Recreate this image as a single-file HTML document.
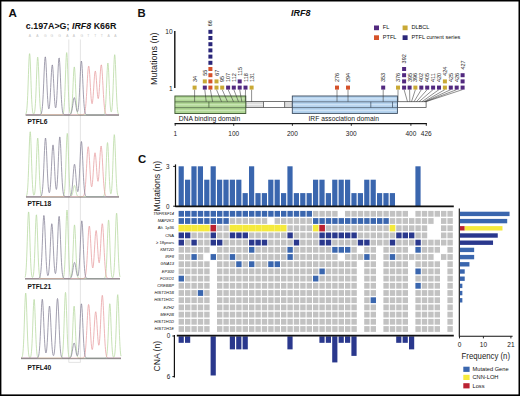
<!DOCTYPE html>
<html><head><meta charset="utf-8"><title>IRF8 figure</title>
<style>html,body{margin:0;padding:0;background:#fff;width:520px;height:396px;overflow:hidden;font-family:"Liberation Sans",sans-serif;}svg{display:block;}</style>
</head><body>
<svg width="520" height="396" viewBox="0 0 520 396"><rect x="0" y="0" width="520" height="396" fill="#fff"/>
<text x="8.4" y="17.1" font-family="'Liberation Sans', sans-serif" font-size="11.6" font-weight="bold" fill="#111">A</text>
<text x="25.8" y="29.4" font-family="'Liberation Sans', sans-serif" font-size="8.9" font-weight="bold" fill="#111">c.197A&gt;G; <tspan font-style="italic">IRF8</tspan> K66R</text>
<text x="29.8" y="37.2" font-family="'Liberation Sans', sans-serif" font-size="3.4" text-anchor="middle" fill="#c4c4c4">A</text>
<text x="37.5" y="37.2" font-family="'Liberation Sans', sans-serif" font-size="3.4" text-anchor="middle" fill="#c4c4c4">A</text>
<text x="45.2" y="37.2" font-family="'Liberation Sans', sans-serif" font-size="3.4" text-anchor="middle" fill="#c4c4c4">G</text>
<text x="51.9" y="37.2" font-family="'Liberation Sans', sans-serif" font-size="3.4" text-anchor="middle" fill="#c4c4c4">G</text>
<text x="59.6" y="37.2" font-family="'Liberation Sans', sans-serif" font-size="3.4" text-anchor="middle" fill="#c4c4c4">G</text>
<text x="67.3" y="37.2" font-family="'Liberation Sans', sans-serif" font-size="3.4" text-anchor="middle" fill="#c4c4c4">A</text>
<text x="74.0" y="37.2" font-family="'Liberation Sans', sans-serif" font-size="3.4" text-anchor="middle" fill="#c4c4c4">A</text>
<text x="81.7" y="37.2" font-family="'Liberation Sans', sans-serif" font-size="3.4" text-anchor="middle" fill="#c4c4c4">G</text>
<text x="88.4" y="37.2" font-family="'Liberation Sans', sans-serif" font-size="3.4" text-anchor="middle" fill="#c4c4c4">T</text>
<text x="95.2" y="37.2" font-family="'Liberation Sans', sans-serif" font-size="3.4" text-anchor="middle" fill="#c4c4c4">T</text>
<text x="101.9" y="37.2" font-family="'Liberation Sans', sans-serif" font-size="3.4" text-anchor="middle" fill="#c4c4c4">T</text>
<text x="108.6" y="37.2" font-family="'Liberation Sans', sans-serif" font-size="3.4" text-anchor="middle" fill="#c4c4c4">A</text>
<text x="115.3" y="37.2" font-family="'Liberation Sans', sans-serif" font-size="3.4" text-anchor="middle" fill="#c4c4c4">A</text>
<line x1="68.8" y1="39.5" x2="68.8" y2="362.4" stroke="#d2d2d2" stroke-width="0.6"/>
<line x1="80.4" y1="39.5" x2="80.4" y2="362.4" stroke="#d2d2d2" stroke-width="0.6"/>
<line x1="68.8" y1="362.4" x2="80.4" y2="362.4" stroke="#d2d2d2" stroke-width="0.6"/>
<polyline points="25.70,114.23 25.95,113.84 26.20,113.18 26.45,112.14 26.70,110.54 26.95,108.22 27.20,105.00 27.45,100.73 27.70,95.39 27.95,89.05 28.20,81.96 28.45,74.55 28.70,67.40 28.95,61.15 29.20,56.46 29.45,53.84 29.70,53.60 29.95,55.76 30.20,60.07 30.45,66.05 30.70,73.08 30.95,80.49 31.20,87.68 31.45,94.20 31.70,99.75 31.95,104.23 32.20,107.65 32.45,110.13 32.70,111.85 32.95,112.97 33.20,113.64 33.45,113.99 33.70,114.07 33.95,113.92 34.20,113.49 34.45,112.71 34.70,111.46 34.95,109.58 35.20,106.92 35.45,103.32 35.70,98.71 35.95,93.12 36.20,86.71 36.45,79.82 36.70,72.95 36.95,66.67 37.20,61.62 37.45,58.34 37.70,57.20 37.95,58.34 38.20,61.62 38.45,66.67 38.70,72.95 38.95,79.82 39.20,86.71 39.45,93.12 39.70,98.71 39.95,103.32 40.20,106.92 40.45,109.59 40.70,111.47 40.95,112.74 41.20,113.56 41.45,114.06 41.70,114.36 41.95,114.52 42.20,114.61 42.45,114.66 42.70,114.68 42.95,114.69 43.20,114.70 43.45,114.70 43.70,114.70 43.95,114.70 44.20,114.70 44.45,114.70 44.70,114.70 44.95,114.70 45.20,114.70 45.45,114.70 45.70,114.70 45.95,114.70 46.20,114.70 46.45,114.70 46.70,114.70 46.95,114.70 47.20,114.70 47.45,114.70 47.70,114.70 47.95,114.70 48.20,114.70 48.45,114.70 48.70,114.70 48.95,114.70 49.20,114.70 49.45,114.70 49.70,114.70 49.95,114.70 50.20,114.70 50.45,114.70 50.70,114.70 50.95,114.70 51.20,114.70 51.45,114.70 51.70,114.70 51.95,114.70 52.20,114.70 52.45,114.70 52.70,114.70 52.95,114.70 53.20,114.70 53.45,114.70 53.70,114.70 53.95,114.70 54.20,114.70 54.45,114.70 54.70,114.70 54.95,114.70 55.20,114.70 55.45,114.70 55.70,114.70 55.95,114.70 56.20,114.70 56.45,114.70 56.70,114.70 56.95,114.70 57.20,114.70 57.45,114.70 57.70,114.70 57.95,114.70 58.20,114.70 58.45,114.70 58.70,114.70 58.95,114.70 59.20,114.70 59.45,114.70 59.70,114.70 59.95,114.70 60.20,114.70 60.45,114.70 60.70,114.70 60.95,114.70 61.20,114.70 61.45,114.69 61.70,114.68 61.95,114.65 62.20,114.60 62.45,114.51 62.70,114.33 62.95,114.01 63.20,113.47 63.45,112.59 63.70,111.21 63.95,109.18 64.20,106.30 64.45,102.41 64.70,97.43 64.95,91.39 65.20,84.47 65.45,77.03 65.70,69.61 65.95,62.83 66.20,57.37 66.45,53.83 66.70,52.60 66.95,53.83 67.20,57.37 67.45,62.83 67.70,69.61 67.95,77.03 68.20,84.47 68.45,91.39 68.70,97.43 68.95,102.41 69.20,106.28 69.45,109.15 69.70,111.16 69.95,112.47 70.20,113.25 70.45,113.59 70.70,113.57 70.95,113.19 71.20,112.39 71.45,111.09 71.70,109.17 71.95,106.51 72.20,103.02 72.45,98.68 72.70,93.59 72.95,87.97 73.20,82.18 73.45,76.69 73.70,72.01 73.95,68.64 74.20,66.95 74.45,67.14 74.70,69.19 74.95,72.86 75.20,77.74 75.45,83.33 75.70,89.12 75.95,94.66 76.20,99.61 76.45,103.79 76.70,107.12 76.95,109.64 77.20,111.45 77.45,112.70 77.70,113.51 77.95,114.03 78.20,114.33 78.45,114.51 78.70,114.60 78.95,114.65 79.20,114.68 79.45,114.69 79.70,114.70 79.95,114.70 80.20,114.70 80.45,114.70 80.70,114.70 80.95,114.70 81.20,114.70 81.45,114.70 81.70,114.70 81.95,114.70 82.20,114.70 82.45,114.70 82.70,114.70 82.95,114.70 83.20,114.70 83.45,114.70 83.70,114.70 83.95,114.70 84.20,114.70 84.45,114.70 84.70,114.70 84.95,114.70 85.20,114.70 85.45,114.70 85.70,114.70 85.95,114.70 86.20,114.70 86.45,114.70 86.70,114.70 86.95,114.70 87.20,114.70 87.45,114.70 87.70,114.70 87.95,114.70 88.20,114.70 88.45,114.70 88.70,114.70 88.95,114.70 89.20,114.70 89.45,114.70 89.70,114.70 89.95,114.70 90.20,114.70 90.45,114.70 90.70,114.70 90.95,114.70 91.20,114.70 91.45,114.70 91.70,114.70 91.95,114.70 92.20,114.70 92.45,114.70 92.70,114.70 92.95,114.70 93.20,114.70 93.45,114.70 93.70,114.70 93.95,114.70 94.20,114.70 94.45,114.70 94.70,114.70 94.95,114.70 95.20,114.70 95.45,114.70 95.70,114.70 95.95,114.70 96.20,114.70 96.45,114.70 96.70,114.70 96.95,114.70 97.20,114.70 97.45,114.70 97.70,114.70 97.95,114.70 98.20,114.70 98.45,114.70 98.70,114.70 98.95,114.70 99.20,114.70 99.45,114.70 99.70,114.70 99.95,114.70 100.20,114.70 100.45,114.70 100.70,114.70 100.95,114.70 101.20,114.70 101.45,114.70 101.70,114.70 101.95,114.70 102.20,114.70 102.45,114.70 102.70,114.69 102.95,114.68 103.20,114.66 103.45,114.61 103.70,114.52 103.95,114.35 104.20,114.05 104.45,113.55 104.70,112.75 104.95,111.51 105.20,109.68 105.45,107.13 105.70,103.71 105.95,99.39 106.20,94.20 106.45,88.32 106.70,82.09 106.95,75.97 107.20,70.50 107.45,66.24 107.70,63.66 107.95,63.04 108.20,64.47 108.45,67.77 108.70,72.57 108.95,78.37 109.20,84.59 109.45,90.72 109.70,96.35 109.95,101.18 110.20,105.09 110.45,108.06 110.70,110.13 110.95,111.40 111.20,111.92 111.45,111.74 111.70,110.82 111.95,109.09 112.20,106.44 112.45,102.76 112.70,97.99 112.95,92.17 113.20,85.49 113.45,78.31 113.70,71.13 113.95,64.58 114.20,59.31 114.45,55.89 114.70,54.70 114.95,55.89 115.20,59.31 115.45,64.58 115.70,71.13 115.95,78.31 116.20,85.49 116.45,92.18 116.70,98.02 116.95,102.83 117.20,106.58 117.45,109.36 117.70,111.33 117.95,112.66 118.20,113.51 118.45,114.03 118.70,114.34 118.95,114.51" fill="none" stroke="#badba5" stroke-width="0.8"/>
<polyline points="25.70,114.70 25.95,114.70 26.20,114.70 26.45,114.70 26.70,114.70 26.95,114.70 27.20,114.70 27.45,114.70 27.70,114.70 27.95,114.70 28.20,114.70 28.45,114.70 28.70,114.70 28.95,114.70 29.20,114.70 29.45,114.70 29.70,114.70 29.95,114.70 30.20,114.70 30.45,114.70 30.70,114.70 30.95,114.70 31.20,114.70 31.45,114.70 31.70,114.70 31.95,114.70 32.20,114.70 32.45,114.70 32.70,114.70 32.95,114.70 33.20,114.70 33.45,114.70 33.70,114.70 33.95,114.70 34.20,114.70 34.45,114.70 34.70,114.70 34.95,114.70 35.20,114.70 35.45,114.70 35.70,114.70 35.95,114.70 36.20,114.70 36.45,114.70 36.70,114.70 36.95,114.70 37.20,114.70 37.45,114.70 37.70,114.70 37.95,114.70 38.20,114.70 38.45,114.70 38.70,114.70 38.95,114.70 39.20,114.70 39.45,114.70 39.70,114.70 39.95,114.70 40.20,114.70 40.45,114.70 40.70,114.70 40.95,114.70 41.20,114.70 41.45,114.70 41.70,114.70 41.95,114.70 42.20,114.70 42.45,114.70 42.70,114.70 42.95,114.70 43.20,114.70 43.45,114.70 43.70,114.70 43.95,114.70 44.20,114.70 44.45,114.70 44.70,114.70 44.95,114.70 45.20,114.70 45.45,114.70 45.70,114.70 45.95,114.70 46.20,114.70 46.45,114.70 46.70,114.70 46.95,114.70 47.20,114.70 47.45,114.70 47.70,114.70 47.95,114.70 48.20,114.70 48.45,114.70 48.70,114.70 48.95,114.70 49.20,114.70 49.45,114.70 49.70,114.70 49.95,114.70 50.20,114.70 50.45,114.70 50.70,114.70 50.95,114.70 51.20,114.70 51.45,114.70 51.70,114.70 51.95,114.70 52.20,114.70 52.45,114.70 52.70,114.70 52.95,114.70 53.20,114.70 53.45,114.70 53.70,114.70 53.95,114.70 54.20,114.70 54.45,114.70 54.70,114.70 54.95,114.70 55.20,114.70 55.45,114.70 55.70,114.70 55.95,114.70 56.20,114.70 56.45,114.70 56.70,114.70 56.95,114.70 57.20,114.70 57.45,114.70 57.70,114.70 57.95,114.70 58.20,114.70 58.45,114.70 58.70,114.70 58.95,114.70 59.20,114.70 59.45,114.70 59.70,114.70 59.95,114.70 60.20,114.70 60.45,114.70 60.70,114.70 60.95,114.70 61.20,114.70 61.45,114.70 61.70,114.70 61.95,114.70 62.20,114.70 62.45,114.70 62.70,114.70 62.95,114.70 63.20,114.70 63.45,114.70 63.70,114.70 63.95,114.70 64.20,114.70 64.45,114.70 64.70,114.70 64.95,114.70 65.20,114.70 65.45,114.70 65.70,114.70 65.95,114.70 66.20,114.70 66.45,114.70 66.70,114.70 66.95,114.70 67.20,114.70 67.45,114.70 67.70,114.70 67.95,114.70 68.20,114.70 68.45,114.70 68.70,114.70 68.95,114.70 69.20,114.70 69.45,114.70 69.70,114.70 69.95,114.70 70.20,114.70 70.45,114.70 70.70,114.70 70.95,114.70 71.20,114.70 71.45,114.70 71.70,114.70 71.95,114.70 72.20,114.70 72.45,114.70 72.70,114.70 72.95,114.70 73.20,114.70 73.45,114.70 73.70,114.70 73.95,114.70 74.20,114.70 74.45,114.70 74.70,114.70 74.95,114.70 75.20,114.70 75.45,114.70 75.70,114.70 75.95,114.70 76.20,114.70 76.45,114.70 76.70,114.70 76.95,114.70 77.20,114.70 77.45,114.70 77.70,114.70 77.95,114.70 78.20,114.70 78.45,114.70 78.70,114.70 78.95,114.70 79.20,114.70 79.45,114.70 79.70,114.70 79.95,114.70 80.20,114.70 80.45,114.70 80.70,114.70 80.95,114.70 81.20,114.70 81.45,114.70 81.70,114.70 81.95,114.69 82.20,114.69 82.45,114.68 82.70,114.66 82.95,114.62 83.20,114.57 83.45,114.48 83.70,114.33 83.95,114.11 84.20,113.77 84.45,113.27 84.70,112.56 84.95,111.58 85.20,110.25 85.45,108.51 85.70,106.30 85.95,103.58 86.20,100.33 86.45,96.58 86.70,92.40 86.95,87.92 87.20,83.32 87.45,78.81 87.70,74.64 87.95,71.07 88.20,68.32 88.45,66.59 88.70,65.99 88.95,66.57 89.20,68.29 89.45,71.01 89.70,74.55 89.95,78.65 90.20,83.05 90.45,87.48 90.70,91.70 90.95,95.50 91.20,98.70 91.45,101.17 91.70,102.83 91.95,103.64 92.20,103.58 92.45,102.65 92.70,100.92 92.95,98.44 93.20,95.34 93.45,91.76 93.70,87.89 93.95,83.93 94.20,80.14 94.45,76.76 94.70,74.01 94.95,72.09 95.20,71.14 95.45,71.22 95.70,72.33 95.95,74.37 96.20,77.17 96.45,80.52 96.70,84.17 96.95,87.84 97.20,91.29 97.45,94.26 97.70,96.58 97.95,98.06 98.20,98.63 98.45,98.21 98.70,96.81 98.95,94.50 99.20,91.38 99.45,87.62 99.70,83.44 99.95,79.11 100.20,74.90 100.45,71.12 100.70,68.04 100.95,65.89 101.20,64.85 101.45,64.99 101.70,66.32 101.95,68.74 102.20,72.10 102.45,76.16 102.70,80.67 102.95,85.38 103.20,90.05 103.45,94.47 103.70,98.50 103.95,102.04 104.20,105.05 104.45,107.51 104.70,109.48 104.95,111.00 105.20,112.14 105.45,112.97 105.70,113.56 105.95,113.97 106.20,114.24 106.45,114.42 106.70,114.53 106.95,114.60 107.20,114.64 107.45,114.67 107.70,114.68 107.95,114.69 108.20,114.70 108.45,114.70 108.70,114.70 108.95,114.70 109.20,114.70 109.45,114.70 109.70,114.70 109.95,114.70 110.20,114.70 110.45,114.70 110.70,114.70 110.95,114.70 111.20,114.70 111.45,114.70 111.70,114.70 111.95,114.70 112.20,114.70 112.45,114.70 112.70,114.70 112.95,114.70 113.20,114.70 113.45,114.70 113.70,114.70 113.95,114.70 114.20,114.70 114.45,114.70 114.70,114.70 114.95,114.70 115.20,114.70 115.45,114.70 115.70,114.70 115.95,114.70 116.20,114.70 116.45,114.70 116.70,114.70 116.95,114.70 117.20,114.70 117.45,114.70 117.70,114.70 117.95,114.70 118.20,114.70 118.45,114.70 118.70,114.70 118.95,114.70" fill="none" stroke="#e8a2a5" stroke-width="0.8"/>
<polyline points="25.70,114.70 25.95,114.70 26.20,114.70 26.45,114.70 26.70,114.70 26.95,114.70 27.20,114.70 27.45,114.70 27.70,114.70 27.95,114.70 28.20,114.70 28.45,114.70 28.70,114.70 28.95,114.70 29.20,114.70 29.45,114.70 29.70,114.70 29.95,114.70 30.20,114.70 30.45,114.70 30.70,114.70 30.95,114.70 31.20,114.70 31.45,114.70 31.70,114.70 31.95,114.70 32.20,114.70 32.45,114.70 32.70,114.70 32.95,114.70 33.20,114.70 33.45,114.70 33.70,114.70 33.95,114.70 34.20,114.70 34.45,114.70 34.70,114.70 34.95,114.70 35.20,114.70 35.45,114.70 35.70,114.70 35.95,114.70 36.20,114.70 36.45,114.70 36.70,114.70 36.95,114.70 37.20,114.70 37.45,114.70 37.70,114.70 37.95,114.70 38.20,114.70 38.45,114.70 38.70,114.70 38.95,114.70 39.20,114.69 39.45,114.68 39.70,114.67 39.95,114.64 40.20,114.58 40.45,114.48 40.70,114.32 40.95,114.06 41.20,113.64 41.45,112.99 41.70,112.04 41.95,110.68 42.20,108.80 42.45,106.30 42.70,103.08 42.95,99.10 43.20,94.38 43.45,89.00 43.70,83.15 43.95,77.10 44.20,71.20 44.45,65.86 44.70,61.46 44.95,58.37 45.20,56.84 45.45,57.01 45.70,58.86 45.95,62.24 46.20,66.86 46.45,72.34 46.70,78.28 46.95,84.29 47.20,90.02 47.45,95.19 47.70,99.63 47.95,103.23 48.20,105.93 48.45,107.75 48.70,108.70 48.95,108.80 49.20,108.07 49.45,106.50 49.70,104.12 49.95,100.94 50.20,97.02 50.45,92.48 50.70,87.50 50.95,82.32 51.20,77.26 51.45,72.67 51.70,68.89 51.95,66.23 52.20,64.92 52.45,65.06 52.70,66.66 52.95,69.56 53.20,73.53 53.45,78.24 53.70,83.34 53.95,88.48 54.20,93.36 54.45,97.75 54.70,101.45 54.95,104.36 55.20,106.42 55.45,107.60 55.70,107.87 55.95,107.24 56.20,105.67 56.45,103.18 56.70,99.76 56.95,95.49 57.20,90.46 57.45,84.88 57.70,79.01 57.95,73.20 58.20,67.84 58.45,63.32 58.70,60.02 58.95,58.20 59.20,58.03 59.45,59.53 59.70,62.56 59.95,66.87 60.20,72.10 60.45,77.88 60.70,83.80 60.95,89.53 61.20,94.80 61.45,99.42 61.70,103.32 61.95,106.47 62.20,108.92 62.45,110.76 62.70,112.09 62.95,113.03 63.20,113.66 63.45,114.07 63.70,114.33 63.95,114.49 64.20,114.58 64.45,114.64 64.70,114.67 64.95,114.68 65.20,114.69 65.45,114.70 65.70,114.70 65.95,114.70 66.20,114.70 66.45,114.70 66.70,114.70 66.95,114.70 67.20,114.70 67.45,114.70 67.70,114.70 67.95,114.70 68.20,114.70 68.45,114.70 68.70,114.69 68.95,114.68 69.20,114.66 69.45,114.64 69.70,114.59 69.95,114.51 70.20,114.39 70.45,114.20 70.70,113.92 70.95,113.51 71.20,112.96 71.45,112.22 71.70,111.27 71.95,110.10 72.20,108.71 72.45,107.12 72.70,105.40 72.95,103.61 73.20,101.88 73.45,100.30 73.70,99.00 73.95,98.09 74.20,97.64 74.45,97.69 74.70,98.24 74.95,99.23 75.20,100.59 75.45,102.20 75.70,103.95 75.95,105.70 76.20,107.37 76.45,108.85 76.70,110.07 76.95,111.00 77.20,111.58 77.45,111.77 77.70,111.54 77.95,110.81 78.20,109.54 78.45,107.64 78.70,105.04 78.95,101.72 79.20,97.66 79.45,92.93 79.70,87.68 79.95,82.12 80.20,76.57 80.45,71.37 80.70,66.91 80.95,63.52 81.20,61.51 81.45,61.03 81.70,62.14 81.95,64.73 82.20,68.58 82.45,73.39 82.70,78.77 82.95,84.37 83.20,89.85 83.45,94.93 83.70,99.44 83.95,103.26 84.20,106.38 84.45,108.82 84.70,110.67 84.95,112.02 85.20,112.97 85.45,113.61 85.70,114.04 85.95,114.31 86.20,114.48 86.45,114.58 86.70,114.63 86.95,114.66 87.20,114.68 87.45,114.69 87.70,114.70 87.95,114.70 88.20,114.70 88.45,114.70 88.70,114.70 88.95,114.70 89.20,114.70 89.45,114.70 89.70,114.70 89.95,114.70 90.20,114.70 90.45,114.70 90.70,114.70 90.95,114.70 91.20,114.70 91.45,114.70 91.70,114.70 91.95,114.70 92.20,114.70 92.45,114.70 92.70,114.70 92.95,114.70 93.20,114.70 93.45,114.70 93.70,114.70 93.95,114.70 94.20,114.70 94.45,114.70 94.70,114.70 94.95,114.70 95.20,114.70 95.45,114.70 95.70,114.70 95.95,114.70 96.20,114.70 96.45,114.70 96.70,114.70 96.95,114.70 97.20,114.70 97.45,114.70 97.70,114.70 97.95,114.70 98.20,114.70 98.45,114.70 98.70,114.70 98.95,114.70 99.20,114.70 99.45,114.70 99.70,114.70 99.95,114.70 100.20,114.70 100.45,114.70 100.70,114.70 100.95,114.70 101.20,114.70 101.45,114.70 101.70,114.70 101.95,114.70 102.20,114.70 102.45,114.70 102.70,114.70 102.95,114.70 103.20,114.70 103.45,114.70 103.70,114.70 103.95,114.70 104.20,114.70 104.45,114.70 104.70,114.70 104.95,114.70 105.20,114.70 105.45,114.70 105.70,114.70 105.95,114.70 106.20,114.70 106.45,114.70 106.70,114.70 106.95,114.70 107.20,114.70 107.45,114.70 107.70,114.70 107.95,114.70 108.20,114.70 108.45,114.70 108.70,114.70 108.95,114.70 109.20,114.70 109.45,114.70 109.70,114.70 109.95,114.70 110.20,114.70 110.45,114.70 110.70,114.70 110.95,114.70 111.20,114.70 111.45,114.70 111.70,114.70 111.95,114.70 112.20,114.70 112.45,114.70 112.70,114.70 112.95,114.70 113.20,114.70 113.45,114.70 113.70,114.70 113.95,114.70 114.20,114.70 114.45,114.70 114.70,114.70 114.95,114.70 115.20,114.70 115.45,114.70 115.70,114.70 115.95,114.70 116.20,114.70 116.45,114.70 116.70,114.70 116.95,114.70 117.20,114.70 117.45,114.70 117.70,114.70 117.95,114.70 118.20,114.70 118.45,114.70 118.70,114.70 118.95,114.70" fill="none" stroke="#8a879b" stroke-width="0.8"/>
<line x1="25.7" y1="115.3" x2="119.0" y2="115.3" stroke="#6a6a6a" stroke-width="0.7"/>
<text x="27.4" y="123.9" font-family="'Liberation Sans', sans-serif" font-size="6.6" font-weight="bold" fill="#111">PTFL6</text>
<polyline points="26.00,196.37 26.25,196.16 26.50,195.79 26.75,195.16 27.00,194.15 27.25,192.59 27.50,190.30 27.75,187.09 28.00,182.81 28.25,177.38 28.50,170.86 28.75,163.48 29.00,155.66 29.25,147.98 29.50,141.12 29.75,135.77 30.00,132.53 30.25,131.75 30.50,133.54 30.75,137.69 31.00,143.72 31.25,150.99 31.50,158.81 31.75,166.51 32.00,173.59 32.25,179.68 32.50,184.65 32.75,188.48 33.00,191.27 33.25,193.19 33.50,194.40 33.75,195.05 34.00,195.23 34.25,194.96 34.50,194.21 34.75,192.90 35.00,190.87 35.25,188.00 35.50,184.14 35.75,179.24 36.00,173.36 36.25,166.70 36.50,159.64 36.75,152.70 37.00,146.50 37.25,141.68 37.50,138.75 37.75,138.05 38.00,139.66 38.25,143.41 38.50,148.85 38.75,155.42 39.00,162.48 39.25,169.43 39.50,175.82 39.75,181.33 40.00,185.82 40.25,189.28 40.50,191.83 40.75,193.61 41.00,194.80 41.25,195.56 41.50,196.02 41.75,196.29 42.00,196.44 42.25,196.52 42.50,196.56 42.75,196.58 43.00,196.59 43.25,196.60 43.50,196.60 43.75,196.60 44.00,196.60 44.25,196.60 44.50,196.60 44.75,196.60 45.00,196.60 45.25,196.60 45.50,196.60 45.75,196.60 46.00,196.60 46.25,196.60 46.50,196.60 46.75,196.60 47.00,196.60 47.25,196.60 47.50,196.60 47.75,196.60 48.00,196.60 48.25,196.60 48.50,196.60 48.75,196.60 49.00,196.60 49.25,196.60 49.50,196.60 49.75,196.60 50.00,196.60 50.25,196.60 50.50,196.60 50.75,196.60 51.00,196.60 51.25,196.60 51.50,196.60 51.75,196.60 52.00,196.60 52.25,196.60 52.50,196.60 52.75,196.60 53.00,196.60 53.25,196.60 53.50,196.60 53.75,196.60 54.00,196.60 54.25,196.60 54.50,196.60 54.75,196.60 55.00,196.60 55.25,196.60 55.50,196.60 55.75,196.60 56.00,196.60 56.25,196.60 56.50,196.60 56.75,196.60 57.00,196.60 57.25,196.60 57.50,196.60 57.75,196.60 58.00,196.60 58.25,196.60 58.50,196.60 58.75,196.60 59.00,196.60 59.25,196.60 59.50,196.60 59.75,196.60 60.00,196.60 60.25,196.60 60.50,196.60 60.75,196.60 61.00,196.60 61.25,196.60 61.50,196.60 61.75,196.60 62.00,196.59 62.25,196.58 62.50,196.56 62.75,196.52 63.00,196.43 63.25,196.27 63.50,195.98 63.75,195.48 64.00,194.66 64.25,193.38 64.50,191.46 64.75,188.71 65.00,184.97 65.25,180.13 65.50,174.19 65.75,167.30 66.00,159.80 66.25,152.19 66.50,145.10 66.75,139.23 67.00,135.19 67.25,133.45 67.50,134.20 67.75,137.37 68.00,142.57 68.25,149.25 68.50,156.73 68.75,164.35 69.00,171.53 69.25,177.88 69.50,183.17 69.75,187.33 70.00,190.45 70.25,192.66 70.50,194.15 70.75,195.07 71.00,195.59 71.25,195.79 71.50,195.75 71.75,195.49 72.00,195.03 72.25,194.36 72.50,193.47 72.75,192.39 73.00,191.15 73.25,189.81 73.50,188.47 73.75,187.24 74.00,186.26 74.25,185.62 74.50,185.40 74.75,185.62 75.00,186.26 75.25,187.24 75.50,188.47 75.75,189.81 76.00,191.15 76.25,192.40 76.50,193.49 76.75,194.38 77.00,195.08 77.25,195.60 77.50,195.97 77.75,196.22 78.00,196.38 78.25,196.48 78.50,196.53 78.75,196.57 79.00,196.58 79.25,196.59 79.50,196.60 79.75,196.60 80.00,196.60 80.25,196.60 80.50,196.60 80.75,196.60 81.00,196.60 81.25,196.60 81.50,196.60 81.75,196.60 82.00,196.60 82.25,196.60 82.50,196.60 82.75,196.60 83.00,196.60 83.25,196.60 83.50,196.60 83.75,196.60 84.00,196.60 84.25,196.60 84.50,196.60 84.75,196.60 85.00,196.60 85.25,196.60 85.50,196.60 85.75,196.60 86.00,196.60 86.25,196.60 86.50,196.60 86.75,196.60 87.00,196.60 87.25,196.60 87.50,196.60 87.75,196.60 88.00,196.60 88.25,196.60 88.50,196.60 88.75,196.60 89.00,196.60 89.25,196.60 89.50,196.60 89.75,196.60 90.00,196.60 90.25,196.60 90.50,196.60 90.75,196.60 91.00,196.60 91.25,196.60 91.50,196.60 91.75,196.60 92.00,196.60 92.25,196.60 92.50,196.60 92.75,196.60 93.00,196.60 93.25,196.60 93.50,196.60 93.75,196.60 94.00,196.60 94.25,196.60 94.50,196.60 94.75,196.60 95.00,196.60 95.25,196.60 95.50,196.60 95.75,196.60 96.00,196.60 96.25,196.60 96.50,196.60 96.75,196.60 97.00,196.60 97.25,196.60 97.50,196.60 97.75,196.60 98.00,196.60 98.25,196.60 98.50,196.60 98.75,196.60 99.00,196.60 99.25,196.60 99.50,196.60 99.75,196.60 100.00,196.60 100.25,196.60 100.50,196.60 100.75,196.60 101.00,196.60 101.25,196.60 101.50,196.60 101.75,196.60 102.00,196.60 102.25,196.59 102.50,196.58 102.75,196.56 103.00,196.52 103.25,196.43 103.50,196.28 103.75,196.00 104.00,195.53 104.25,194.76 104.50,193.57 104.75,191.80 105.00,189.29 105.25,185.91 105.50,181.59 105.75,176.33 106.00,170.32 106.25,163.85 106.50,157.39 106.75,151.50 107.00,146.75 107.25,143.67 107.50,142.60 107.75,143.67 108.00,146.75 108.25,151.49 108.50,157.39 108.75,163.84 109.00,170.31 109.25,176.32 109.50,181.55 109.75,185.83 110.00,189.12 110.25,191.47 110.50,192.96 110.75,193.66 111.00,193.63 111.25,192.84 111.50,191.23 111.75,188.69 112.00,185.11 112.25,180.40 112.50,174.60 112.75,167.85 113.00,160.50 113.25,153.03 113.50,146.08 113.75,140.32 114.00,136.36 114.25,134.65 114.50,135.39 114.75,138.49 115.00,143.60 115.25,150.15 115.50,157.49 115.75,164.96 116.00,172.01 116.25,178.24 116.50,183.42 116.75,187.52 117.00,190.58 117.25,192.77 117.50,194.26 117.75,195.23 118.00,195.82 118.25,196.18 118.50,196.38 118.75,196.49 119.00,196.55" fill="none" stroke="#badba5" stroke-width="0.8"/>
<polyline points="26.00,196.60 26.25,196.60 26.50,196.60 26.75,196.60 27.00,196.60 27.25,196.60 27.50,196.60 27.75,196.60 28.00,196.60 28.25,196.60 28.50,196.60 28.75,196.60 29.00,196.60 29.25,196.60 29.50,196.60 29.75,196.60 30.00,196.60 30.25,196.60 30.50,196.60 30.75,196.60 31.00,196.60 31.25,196.60 31.50,196.60 31.75,196.60 32.00,196.60 32.25,196.60 32.50,196.60 32.75,196.60 33.00,196.60 33.25,196.60 33.50,196.60 33.75,196.60 34.00,196.60 34.25,196.60 34.50,196.60 34.75,196.60 35.00,196.60 35.25,196.60 35.50,196.60 35.75,196.60 36.00,196.60 36.25,196.60 36.50,196.60 36.75,196.60 37.00,196.60 37.25,196.60 37.50,196.60 37.75,196.60 38.00,196.60 38.25,196.60 38.50,196.60 38.75,196.60 39.00,196.60 39.25,196.60 39.50,196.60 39.75,196.60 40.00,196.60 40.25,196.60 40.50,196.60 40.75,196.60 41.00,196.60 41.25,196.60 41.50,196.60 41.75,196.60 42.00,196.60 42.25,196.60 42.50,196.60 42.75,196.60 43.00,196.60 43.25,196.60 43.50,196.60 43.75,196.60 44.00,196.60 44.25,196.60 44.50,196.60 44.75,196.60 45.00,196.60 45.25,196.60 45.50,196.60 45.75,196.60 46.00,196.60 46.25,196.60 46.50,196.60 46.75,196.60 47.00,196.60 47.25,196.60 47.50,196.60 47.75,196.60 48.00,196.60 48.25,196.60 48.50,196.60 48.75,196.60 49.00,196.60 49.25,196.60 49.50,196.60 49.75,196.60 50.00,196.60 50.25,196.60 50.50,196.60 50.75,196.60 51.00,196.60 51.25,196.60 51.50,196.60 51.75,196.60 52.00,196.60 52.25,196.60 52.50,196.60 52.75,196.60 53.00,196.60 53.25,196.60 53.50,196.60 53.75,196.60 54.00,196.60 54.25,196.60 54.50,196.60 54.75,196.60 55.00,196.60 55.25,196.60 55.50,196.60 55.75,196.60 56.00,196.60 56.25,196.60 56.50,196.60 56.75,196.60 57.00,196.60 57.25,196.60 57.50,196.60 57.75,196.60 58.00,196.60 58.25,196.60 58.50,196.60 58.75,196.60 59.00,196.60 59.25,196.60 59.50,196.60 59.75,196.60 60.00,196.60 60.25,196.60 60.50,196.60 60.75,196.60 61.00,196.60 61.25,196.60 61.50,196.60 61.75,196.60 62.00,196.60 62.25,196.60 62.50,196.60 62.75,196.60 63.00,196.60 63.25,196.60 63.50,196.60 63.75,196.60 64.00,196.60 64.25,196.60 64.50,196.60 64.75,196.60 65.00,196.60 65.25,196.60 65.50,196.60 65.75,196.60 66.00,196.60 66.25,196.60 66.50,196.60 66.75,196.60 67.00,196.60 67.25,196.60 67.50,196.60 67.75,196.60 68.00,196.60 68.25,196.60 68.50,196.60 68.75,196.60 69.00,196.60 69.25,196.60 69.50,196.60 69.75,196.60 70.00,196.60 70.25,196.60 70.50,196.60 70.75,196.60 71.00,196.60 71.25,196.60 71.50,196.60 71.75,196.60 72.00,196.60 72.25,196.60 72.50,196.60 72.75,196.60 73.00,196.60 73.25,196.60 73.50,196.60 73.75,196.60 74.00,196.60 74.25,196.60 74.50,196.60 74.75,196.60 75.00,196.60 75.25,196.60 75.50,196.60 75.75,196.60 76.00,196.60 76.25,196.60 76.50,196.60 76.75,196.60 77.00,196.60 77.25,196.60 77.50,196.60 77.75,196.60 78.00,196.60 78.25,196.60 78.50,196.60 78.75,196.60 79.00,196.60 79.25,196.60 79.50,196.60 79.75,196.60 80.00,196.60 80.25,196.60 80.50,196.60 80.75,196.60 81.00,196.60 81.25,196.60 81.50,196.59 81.75,196.59 82.00,196.57 82.25,196.55 82.50,196.51 82.75,196.45 83.00,196.35 83.25,196.18 83.50,195.93 83.75,195.56 84.00,195.01 84.25,194.23 84.50,193.16 84.75,191.72 85.00,189.85 85.25,187.48 85.50,184.58 85.75,181.15 86.00,177.21 86.25,172.86 86.50,168.22 86.75,163.51 87.00,158.93 87.25,154.76 87.50,151.25 87.75,148.63 88.00,147.09 88.25,146.72 88.50,147.56 88.75,149.54 89.00,152.52 89.25,156.30 89.50,160.61 89.75,165.19 90.00,169.77 90.25,174.11 90.50,178.00 90.75,181.30 91.00,183.88 91.25,185.68 91.50,186.65 91.75,186.78 92.00,186.07 92.25,184.57 92.50,182.33 92.75,179.43 93.00,175.99 93.25,172.17 93.50,168.17 93.75,164.20 94.00,160.50 94.25,157.31 94.50,154.86 94.75,153.30 95.00,152.76 95.25,153.27 95.50,154.78 95.75,157.17 96.00,160.26 96.25,163.81 96.50,167.56 96.75,171.26 97.00,174.65 97.25,177.51 97.50,179.65 97.75,180.95 98.00,181.30 98.25,180.68 98.50,179.08 98.75,176.58 99.00,173.29 99.25,169.38 99.50,165.07 99.75,160.62 100.00,156.32 100.25,152.46 100.50,149.32 100.75,147.13 101.00,146.06 101.25,146.20 101.50,147.55 101.75,150.00 102.00,153.40 102.25,157.52 102.50,162.09 102.75,166.87 103.00,171.60 103.25,176.09 103.50,180.17 103.75,183.76 104.00,186.81 104.25,189.31 104.50,191.31 104.75,192.85 105.00,194.01 105.25,194.85 105.50,195.45 105.75,195.86 106.00,196.13 106.25,196.32 106.50,196.43 106.75,196.50 107.00,196.54 107.25,196.57 107.50,196.58 107.75,196.59 108.00,196.60 108.25,196.60 108.50,196.60 108.75,196.60 109.00,196.60 109.25,196.60 109.50,196.60 109.75,196.60 110.00,196.60 110.25,196.60 110.50,196.60 110.75,196.60 111.00,196.60 111.25,196.60 111.50,196.60 111.75,196.60 112.00,196.60 112.25,196.60 112.50,196.60 112.75,196.60 113.00,196.60 113.25,196.60 113.50,196.60 113.75,196.60 114.00,196.60 114.25,196.60 114.50,196.60 114.75,196.60 115.00,196.60 115.25,196.60 115.50,196.60 115.75,196.60 116.00,196.60 116.25,196.60 116.50,196.60 116.75,196.60 117.00,196.60 117.25,196.60 117.50,196.60 117.75,196.60 118.00,196.60 118.25,196.60 118.50,196.60 118.75,196.60 119.00,196.60" fill="none" stroke="#e8a2a5" stroke-width="0.8"/>
<polyline points="26.00,196.60 26.25,196.60 26.50,196.60 26.75,196.60 27.00,196.60 27.25,196.60 27.50,196.60 27.75,196.60 28.00,196.60 28.25,196.60 28.50,196.60 28.75,196.60 29.00,196.60 29.25,196.60 29.50,196.60 29.75,196.60 30.00,196.60 30.25,196.60 30.50,196.60 30.75,196.60 31.00,196.60 31.25,196.60 31.50,196.60 31.75,196.60 32.00,196.60 32.25,196.60 32.50,196.60 32.75,196.60 33.00,196.60 33.25,196.60 33.50,196.60 33.75,196.60 34.00,196.60 34.25,196.60 34.50,196.60 34.75,196.60 35.00,196.60 35.25,196.60 35.50,196.60 35.75,196.60 36.00,196.60 36.25,196.60 36.50,196.60 36.75,196.60 37.00,196.60 37.25,196.60 37.50,196.60 37.75,196.60 38.00,196.60 38.25,196.60 38.50,196.60 38.75,196.60 39.00,196.60 39.25,196.59 39.50,196.59 39.75,196.58 40.00,196.56 40.25,196.52 40.50,196.45 40.75,196.33 41.00,196.13 41.25,195.80 41.50,195.30 41.75,194.53 42.00,193.42 42.25,191.85 42.50,189.71 42.75,186.90 43.00,183.34 43.25,179.02 43.50,173.97 43.75,168.31 44.00,162.28 44.25,156.19 44.50,150.40 44.75,145.34 45.00,141.38 45.25,138.86 45.50,138.00 45.75,138.86 46.00,141.38 46.25,145.34 46.50,150.40 46.75,156.18 47.00,162.27 47.25,168.29 47.50,173.93 47.75,178.95 48.00,183.21 48.25,186.66 48.50,189.29 48.75,191.14 49.00,192.27 49.25,192.71 49.50,192.49 49.75,191.61 50.00,190.04 50.25,187.77 50.50,184.75 50.75,181.01 51.00,176.59 51.25,171.62 51.50,166.31 51.75,160.94 52.00,155.84 52.25,151.37 52.50,147.88 52.75,145.66 53.00,144.90 53.25,145.66 53.50,147.88 53.75,151.36 54.00,155.82 54.25,160.91 54.50,166.25 54.75,171.50 55.00,176.38 55.25,180.65 55.50,184.17 55.75,186.83 56.00,188.59 56.25,189.43 56.50,189.31 56.75,188.24 57.00,186.20 57.25,183.18 57.50,179.21 57.75,174.38 58.00,168.84 58.25,162.81 58.50,156.62 58.75,150.65 59.00,145.32 59.25,141.04 59.50,138.16 59.75,136.93 60.00,137.46 60.25,139.71 60.50,143.47 60.75,148.43 61.00,154.21 61.25,160.39 61.50,166.57 61.75,172.43 62.00,177.72 62.25,182.28 62.50,186.05 62.75,189.06 63.00,191.37 63.25,193.08 63.50,194.30 63.75,195.14 64.00,195.70 64.25,196.06 64.50,196.29 64.75,196.42 65.00,196.50 65.25,196.55 65.50,196.57 65.75,196.59 66.00,196.59 66.25,196.60 66.50,196.60 66.75,196.60 67.00,196.60 67.25,196.60 67.50,196.60 67.75,196.60 68.00,196.60 68.25,196.60 68.50,196.59 68.75,196.59 69.00,196.58 69.25,196.55 69.50,196.52 69.75,196.45 70.00,196.34 70.25,196.16 70.50,195.88 70.75,195.46 71.00,194.84 71.25,193.97 71.50,192.79 71.75,191.24 72.00,189.27 72.25,186.88 72.50,184.09 72.75,180.96 73.00,177.63 73.25,174.26 73.50,171.06 73.75,168.26 74.00,166.07 74.25,164.68 74.50,164.20 74.75,164.68 75.00,166.07 75.25,168.25 75.50,171.04 75.75,174.23 76.00,177.57 76.25,180.86 76.50,183.90 76.75,186.56 77.00,188.72 77.25,190.32 77.50,191.31 77.75,191.65 78.00,191.31 78.25,190.24 78.50,188.41 78.75,185.77 79.00,182.31 79.25,178.06 79.50,173.12 79.75,167.66 80.00,161.94 80.25,156.28 80.50,151.07 80.75,146.67 81.00,143.46 81.25,141.69 81.50,141.53 81.75,142.98 82.00,145.93 82.25,150.11 82.50,155.20 82.75,160.81 83.00,166.57 83.25,172.14 83.50,177.26 83.75,181.76 84.00,185.54 84.25,188.60 84.50,190.98 84.75,192.77 85.00,194.07 85.25,194.97 85.50,195.59 85.75,195.99 86.00,196.24 86.25,196.39 86.50,196.49 86.75,196.54 87.00,196.57 87.25,196.58 87.50,196.59 87.75,196.60 88.00,196.60 88.25,196.60 88.50,196.60 88.75,196.60 89.00,196.60 89.25,196.60 89.50,196.60 89.75,196.60 90.00,196.60 90.25,196.60 90.50,196.60 90.75,196.60 91.00,196.60 91.25,196.60 91.50,196.60 91.75,196.60 92.00,196.60 92.25,196.60 92.50,196.60 92.75,196.60 93.00,196.60 93.25,196.60 93.50,196.60 93.75,196.60 94.00,196.60 94.25,196.60 94.50,196.60 94.75,196.60 95.00,196.60 95.25,196.60 95.50,196.60 95.75,196.60 96.00,196.60 96.25,196.60 96.50,196.60 96.75,196.60 97.00,196.60 97.25,196.60 97.50,196.60 97.75,196.60 98.00,196.60 98.25,196.60 98.50,196.60 98.75,196.60 99.00,196.60 99.25,196.60 99.50,196.60 99.75,196.60 100.00,196.60 100.25,196.60 100.50,196.60 100.75,196.60 101.00,196.60 101.25,196.60 101.50,196.60 101.75,196.60 102.00,196.60 102.25,196.60 102.50,196.60 102.75,196.60 103.00,196.60 103.25,196.60 103.50,196.60 103.75,196.60 104.00,196.60 104.25,196.60 104.50,196.60 104.75,196.60 105.00,196.60 105.25,196.60 105.50,196.60 105.75,196.60 106.00,196.60 106.25,196.60 106.50,196.60 106.75,196.60 107.00,196.60 107.25,196.60 107.50,196.60 107.75,196.60 108.00,196.60 108.25,196.60 108.50,196.60 108.75,196.60 109.00,196.60 109.25,196.60 109.50,196.60 109.75,196.60 110.00,196.60 110.25,196.60 110.50,196.60 110.75,196.60 111.00,196.60 111.25,196.60 111.50,196.60 111.75,196.60 112.00,196.60 112.25,196.60 112.50,196.60 112.75,196.60 113.00,196.60 113.25,196.60 113.50,196.60 113.75,196.60 114.00,196.60 114.25,196.60 114.50,196.60 114.75,196.60 115.00,196.60 115.25,196.60 115.50,196.60 115.75,196.60 116.00,196.60 116.25,196.60 116.50,196.60 116.75,196.60 117.00,196.60 117.25,196.60 117.50,196.60 117.75,196.60 118.00,196.60 118.25,196.60 118.50,196.60 118.75,196.60 119.00,196.60" fill="none" stroke="#8a879b" stroke-width="0.8"/>
<line x1="26.0" y1="197.2" x2="119.0" y2="197.2" stroke="#6a6a6a" stroke-width="0.7"/>
<text x="27.4" y="205.9" font-family="'Liberation Sans', sans-serif" font-size="6.6" font-weight="bold" fill="#111">PTFL18</text>
<polyline points="25.00,277.44 25.25,276.66 25.50,275.42 25.75,273.53 26.00,270.82 26.25,267.09 26.50,262.21 26.75,256.16 27.00,249.06 27.25,241.22 27.50,233.15 27.75,225.49 28.00,218.97 28.25,214.27 28.50,211.91 28.75,212.18 29.00,215.03 29.25,220.15 29.50,226.95 29.75,234.75 30.00,242.82 30.25,250.55 30.50,257.46 30.75,263.28 31.00,267.92 31.25,271.43 31.50,273.94 31.75,275.65 32.00,276.72 32.25,277.30 32.50,277.49 32.75,277.33 33.00,276.78 33.25,275.76 33.50,274.14 33.75,271.73 34.00,268.38 34.25,263.94 34.50,258.37 34.75,251.76 35.00,244.37 35.25,236.65 35.50,229.19 35.75,222.68 36.00,217.79 36.25,215.06 36.50,214.80 36.75,217.06 37.00,221.55 37.25,227.79 37.50,235.11 37.75,242.84 38.00,250.33 38.25,257.13 38.50,262.92 38.75,267.59 39.00,271.15 39.25,273.75 39.50,275.55 39.75,276.74 40.00,277.49 40.25,277.94 40.50,278.21 40.75,278.35 41.00,278.43 41.25,278.47 41.50,278.48 41.75,278.49 42.00,278.50 42.25,278.50 42.50,278.50 42.75,278.50 43.00,278.50 43.25,278.50 43.50,278.50 43.75,278.50 44.00,278.50 44.25,278.50 44.50,278.50 44.75,278.50 45.00,278.50 45.25,278.50 45.50,278.50 45.75,278.50 46.00,278.50 46.25,278.50 46.50,278.50 46.75,278.50 47.00,278.50 47.25,278.50 47.50,278.50 47.75,278.50 48.00,278.50 48.25,278.50 48.50,278.50 48.75,278.50 49.00,278.50 49.25,278.50 49.50,278.50 49.75,278.50 50.00,278.50 50.25,278.50 50.50,278.50 50.75,278.50 51.00,278.50 51.25,278.50 51.50,278.50 51.75,278.50 52.00,278.50 52.25,278.50 52.50,278.50 52.75,278.50 53.00,278.50 53.25,278.50 53.50,278.50 53.75,278.50 54.00,278.50 54.25,278.50 54.50,278.50 54.75,278.50 55.00,278.50 55.25,278.50 55.50,278.50 55.75,278.50 56.00,278.50 56.25,278.50 56.50,278.50 56.75,278.50 57.00,278.50 57.25,278.50 57.50,278.50 57.75,278.50 58.00,278.50 58.25,278.50 58.50,278.50 58.75,278.50 59.00,278.50 59.25,278.50 59.50,278.50 59.75,278.50 60.00,278.50 60.25,278.50 60.50,278.50 60.75,278.50 61.00,278.50 61.25,278.50 61.50,278.50 61.75,278.49 62.00,278.48 62.25,278.45 62.50,278.40 62.75,278.29 63.00,278.09 63.25,277.74 63.50,277.14 63.75,276.17 64.00,274.66 64.25,272.42 64.50,269.24 64.75,264.96 65.00,259.48 65.25,252.83 65.50,245.21 65.75,237.01 66.00,228.83 66.25,221.37 66.50,215.36 66.75,211.45 67.00,210.10 67.25,211.45 67.50,215.36 67.75,221.37 68.00,228.83 68.25,237.01 68.50,245.21 68.75,252.83 69.00,259.48 69.25,264.96 69.50,269.23 69.75,272.38 70.00,274.58 70.25,276.01 70.50,276.82 70.75,277.14 71.00,277.03 71.25,276.46 71.50,275.39 71.75,273.68 72.00,271.22 72.25,267.88 72.50,263.59 72.75,258.38 73.00,252.41 73.25,245.99 73.50,239.58 73.75,233.73 74.00,229.02 74.25,225.96 74.50,224.90 74.75,225.96 75.00,229.02 75.25,233.73 75.50,239.58 75.75,245.99 76.00,252.41 76.25,258.38 76.50,263.60 76.75,267.89 77.00,271.25 77.25,273.73 77.50,275.49 77.75,276.68 78.00,277.44 78.25,277.90 78.50,278.18 78.75,278.33 79.00,278.42 79.25,278.46 79.50,278.48 79.75,278.49 80.00,278.50 80.25,278.50 80.50,278.50 80.75,278.50 81.00,278.50 81.25,278.50 81.50,278.50 81.75,278.50 82.00,278.50 82.25,278.50 82.50,278.50 82.75,278.50 83.00,278.50 83.25,278.50 83.50,278.50 83.75,278.50 84.00,278.50 84.25,278.50 84.50,278.50 84.75,278.50 85.00,278.50 85.25,278.50 85.50,278.50 85.75,278.50 86.00,278.50 86.25,278.50 86.50,278.50 86.75,278.50 87.00,278.50 87.25,278.50 87.50,278.50 87.75,278.50 88.00,278.50 88.25,278.50 88.50,278.50 88.75,278.50 89.00,278.50 89.25,278.50 89.50,278.50 89.75,278.50 90.00,278.50 90.25,278.50 90.50,278.50 90.75,278.50 91.00,278.50 91.25,278.50 91.50,278.50 91.75,278.50 92.00,278.50 92.25,278.50 92.50,278.50 92.75,278.50 93.00,278.50 93.25,278.50 93.50,278.50 93.75,278.50 94.00,278.50 94.25,278.50 94.50,278.50 94.75,278.50 95.00,278.50 95.25,278.50 95.50,278.50 95.75,278.50 96.00,278.50 96.25,278.50 96.50,278.50 96.75,278.50 97.00,278.50 97.25,278.50 97.50,278.50 97.75,278.50 98.00,278.50 98.25,278.50 98.50,278.50 98.75,278.50 99.00,278.50 99.25,278.50 99.50,278.50 99.75,278.50 100.00,278.50 100.25,278.50 100.50,278.50 100.75,278.50 101.00,278.50 101.25,278.50 101.50,278.50 101.75,278.50 102.00,278.50 102.25,278.50 102.50,278.50 102.75,278.50 103.00,278.50 103.25,278.49 103.50,278.49 103.75,278.47 104.00,278.43 104.25,278.36 104.50,278.23 104.75,277.99 105.00,277.57 105.25,276.88 105.50,275.79 105.75,274.14 106.00,271.76 106.25,268.49 106.50,264.21 106.75,258.90 107.00,252.67 107.25,245.79 107.50,238.71 107.75,232.00 108.00,226.28 108.25,222.15 108.50,220.09 108.75,220.32 109.00,222.82 109.25,227.31 109.50,233.28 109.75,240.12 110.00,247.20 110.25,253.98 110.50,260.04 110.75,265.15 111.00,269.22 111.25,272.30 111.50,274.51 111.75,276.02 112.00,276.97 112.25,277.52 112.50,277.75 112.75,277.69 113.00,277.35 113.25,276.64 113.50,275.45 113.75,273.62 114.00,270.97 114.25,267.31 114.50,262.53 114.75,256.59 115.00,249.63 115.25,241.94 115.50,234.03 115.75,226.52 116.00,220.13 116.25,215.52 116.50,213.21 116.75,213.47 117.00,216.27 117.25,221.28 117.50,227.96 117.75,235.60 118.00,243.52 118.25,251.09 118.50,257.87 118.75,263.58 119.00,268.13 119.25,271.58 119.50,274.06 119.75,275.76 120.00,276.88" fill="none" stroke="#badba5" stroke-width="0.8"/>
<polyline points="25.00,278.50 25.25,278.50 25.50,278.50 25.75,278.50 26.00,278.50 26.25,278.50 26.50,278.50 26.75,278.50 27.00,278.50 27.25,278.50 27.50,278.50 27.75,278.50 28.00,278.50 28.25,278.50 28.50,278.50 28.75,278.50 29.00,278.50 29.25,278.50 29.50,278.50 29.75,278.50 30.00,278.50 30.25,278.50 30.50,278.50 30.75,278.50 31.00,278.50 31.25,278.50 31.50,278.50 31.75,278.50 32.00,278.50 32.25,278.50 32.50,278.50 32.75,278.50 33.00,278.50 33.25,278.50 33.50,278.50 33.75,278.50 34.00,278.50 34.25,278.50 34.50,278.50 34.75,278.50 35.00,278.50 35.25,278.50 35.50,278.50 35.75,278.50 36.00,278.50 36.25,278.50 36.50,278.50 36.75,278.50 37.00,278.50 37.25,278.50 37.50,278.50 37.75,278.50 38.00,278.50 38.25,278.50 38.50,278.50 38.75,278.50 39.00,278.50 39.25,278.50 39.50,278.50 39.75,278.50 40.00,278.50 40.25,278.50 40.50,278.50 40.75,278.50 41.00,278.50 41.25,278.50 41.50,278.50 41.75,278.50 42.00,278.50 42.25,278.50 42.50,278.50 42.75,278.50 43.00,278.50 43.25,278.50 43.50,278.50 43.75,278.50 44.00,278.50 44.25,278.50 44.50,278.50 44.75,278.50 45.00,278.50 45.25,278.50 45.50,278.50 45.75,278.50 46.00,278.50 46.25,278.50 46.50,278.50 46.75,278.50 47.00,278.50 47.25,278.50 47.50,278.50 47.75,278.50 48.00,278.50 48.25,278.50 48.50,278.50 48.75,278.50 49.00,278.50 49.25,278.50 49.50,278.50 49.75,278.50 50.00,278.50 50.25,278.50 50.50,278.50 50.75,278.50 51.00,278.50 51.25,278.50 51.50,278.50 51.75,278.50 52.00,278.50 52.25,278.50 52.50,278.50 52.75,278.50 53.00,278.50 53.25,278.50 53.50,278.50 53.75,278.50 54.00,278.50 54.25,278.50 54.50,278.50 54.75,278.50 55.00,278.50 55.25,278.50 55.50,278.50 55.75,278.50 56.00,278.50 56.25,278.50 56.50,278.50 56.75,278.50 57.00,278.50 57.25,278.50 57.50,278.50 57.75,278.50 58.00,278.50 58.25,278.50 58.50,278.50 58.75,278.50 59.00,278.50 59.25,278.50 59.50,278.50 59.75,278.50 60.00,278.50 60.25,278.50 60.50,278.50 60.75,278.50 61.00,278.50 61.25,278.50 61.50,278.50 61.75,278.50 62.00,278.50 62.25,278.50 62.50,278.50 62.75,278.50 63.00,278.50 63.25,278.50 63.50,278.50 63.75,278.50 64.00,278.50 64.25,278.50 64.50,278.50 64.75,278.50 65.00,278.50 65.25,278.50 65.50,278.50 65.75,278.50 66.00,278.50 66.25,278.50 66.50,278.50 66.75,278.50 67.00,278.50 67.25,278.50 67.50,278.50 67.75,278.50 68.00,278.50 68.25,278.50 68.50,278.50 68.75,278.50 69.00,278.50 69.25,278.50 69.50,278.50 69.75,278.50 70.00,278.50 70.25,278.50 70.50,278.50 70.75,278.50 71.00,278.50 71.25,278.50 71.50,278.50 71.75,278.50 72.00,278.50 72.25,278.50 72.50,278.50 72.75,278.50 73.00,278.50 73.25,278.50 73.50,278.50 73.75,278.50 74.00,278.50 74.25,278.50 74.50,278.50 74.75,278.50 75.00,278.50 75.25,278.50 75.50,278.50 75.75,278.50 76.00,278.50 76.25,278.50 76.50,278.50 76.75,278.50 77.00,278.50 77.25,278.50 77.50,278.50 77.75,278.50 78.00,278.50 78.25,278.50 78.50,278.50 78.75,278.50 79.00,278.50 79.25,278.50 79.50,278.50 79.75,278.50 80.00,278.50 80.25,278.50 80.50,278.50 80.75,278.50 81.00,278.50 81.25,278.50 81.50,278.50 81.75,278.50 82.00,278.50 82.25,278.50 82.50,278.49 82.75,278.49 83.00,278.48 83.25,278.46 83.50,278.43 83.75,278.37 84.00,278.28 84.25,278.14 84.50,277.92 84.75,277.58 85.00,277.08 85.25,276.37 85.50,275.37 85.75,274.02 86.00,272.24 86.25,269.97 86.50,267.15 86.75,263.76 87.00,259.82 87.25,255.40 87.50,250.62 87.75,245.66 88.00,240.76 88.25,236.17 88.50,232.17 88.75,229.01 89.00,226.91 89.25,226.02 89.50,226.40 89.75,228.02 90.00,230.76 90.25,234.42 90.50,238.77 90.75,243.50 91.00,248.35 91.25,253.03 91.50,257.33 91.75,261.05 92.00,264.06 92.25,266.25 92.50,267.58 92.75,268.00 93.00,267.53 93.25,266.18 93.50,264.01 93.75,261.08 94.00,257.51 94.25,253.46 94.50,249.12 94.75,244.72 95.00,240.51 95.25,236.76 95.50,233.72 95.75,231.61 96.00,230.56 96.25,230.66 96.50,231.90 96.75,234.17 97.00,237.30 97.25,241.05 97.50,245.16 97.75,249.33 98.00,253.30 98.25,256.81 98.50,259.65 98.75,261.65 99.00,262.68 99.25,262.68 99.50,261.63 99.75,259.55 100.00,256.54 100.25,252.72 100.50,248.30 100.75,243.52 101.00,238.66 101.25,234.05 101.50,229.98 101.75,226.75 102.00,224.60 102.25,223.70 102.50,224.11 102.75,225.82 103.00,228.70 103.25,232.55 103.50,237.13 103.75,242.15 104.00,247.34 104.25,252.42 104.50,257.21 104.75,261.53 105.00,265.30 105.25,268.49 105.50,271.08 105.75,273.14 106.00,274.72 106.25,275.90 106.50,276.75 106.75,277.35 107.00,277.77 107.25,278.04 107.50,278.22 107.75,278.33 108.00,278.40 108.25,278.45 108.50,278.47 108.75,278.48 109.00,278.49 109.25,278.50 109.50,278.50 109.75,278.50 110.00,278.50 110.25,278.50 110.50,278.50 110.75,278.50 111.00,278.50 111.25,278.50 111.50,278.50 111.75,278.50 112.00,278.50 112.25,278.50 112.50,278.50 112.75,278.50 113.00,278.50 113.25,278.50 113.50,278.50 113.75,278.50 114.00,278.50 114.25,278.50 114.50,278.50 114.75,278.50 115.00,278.50 115.25,278.50 115.50,278.50 115.75,278.50 116.00,278.50 116.25,278.50 116.50,278.50 116.75,278.50 117.00,278.50 117.25,278.50 117.50,278.50 117.75,278.50 118.00,278.50 118.25,278.50 118.50,278.50 118.75,278.50 119.00,278.50 119.25,278.50 119.50,278.50 119.75,278.50 120.00,278.50" fill="none" stroke="#e8a2a5" stroke-width="0.8"/>
<polyline points="25.00,278.50 25.25,278.50 25.50,278.50 25.75,278.50 26.00,278.50 26.25,278.50 26.50,278.50 26.75,278.50 27.00,278.50 27.25,278.50 27.50,278.50 27.75,278.50 28.00,278.50 28.25,278.50 28.50,278.50 28.75,278.50 29.00,278.50 29.25,278.50 29.50,278.50 29.75,278.50 30.00,278.50 30.25,278.50 30.50,278.50 30.75,278.50 31.00,278.50 31.25,278.50 31.50,278.50 31.75,278.50 32.00,278.50 32.25,278.50 32.50,278.50 32.75,278.50 33.00,278.50 33.25,278.50 33.50,278.50 33.75,278.50 34.00,278.50 34.25,278.50 34.50,278.50 34.75,278.50 35.00,278.50 35.25,278.50 35.50,278.50 35.75,278.50 36.00,278.50 36.25,278.50 36.50,278.50 36.75,278.50 37.00,278.50 37.25,278.50 37.50,278.50 37.75,278.49 38.00,278.48 38.25,278.47 38.50,278.44 38.75,278.38 39.00,278.29 39.25,278.13 39.50,277.87 39.75,277.45 40.00,276.80 40.25,275.84 40.50,274.46 40.75,272.53 41.00,269.95 41.25,266.60 41.50,262.44 41.75,257.45 42.00,251.72 42.25,245.42 42.50,238.85 42.75,232.35 43.00,226.37 43.25,221.34 43.50,217.66 43.75,215.64 44.00,215.45 44.25,217.11 44.50,220.49 44.75,225.28 45.00,231.10 45.25,237.53 45.50,244.11 45.75,250.49 46.00,256.34 46.25,261.47 46.50,265.77 46.75,269.21 47.00,271.84 47.25,273.72 47.50,274.93 47.75,275.53 48.00,275.57 48.25,275.06 48.50,273.98 48.75,272.27 49.00,269.88 49.25,266.76 49.50,262.89 49.75,258.31 50.00,253.13 50.25,247.55 50.50,241.83 50.75,236.34 51.00,231.44 51.25,227.50 51.50,224.86 51.75,223.73 52.00,224.22 52.25,226.28 52.50,229.73 52.75,234.28 53.00,239.58 53.25,245.24 53.50,250.90 53.75,256.25 54.00,261.04 54.25,265.12 54.50,268.41 54.75,270.89 55.00,272.56 55.25,273.43 55.50,273.53 55.75,272.84 56.00,271.34 56.25,268.98 56.50,265.73 56.75,261.58 57.00,256.58 57.25,250.85 57.50,244.58 57.75,238.10 58.00,231.77 58.25,226.03 58.50,221.31 58.75,217.99 59.00,216.35 59.25,216.53 59.50,218.53 59.75,222.16 60.00,227.12 60.25,233.01 60.50,239.41 60.75,245.89 61.00,252.10 61.25,257.75 61.50,262.67 61.75,266.77 62.00,270.07 62.25,272.62 62.50,274.51 62.75,275.88 63.00,276.83 63.25,277.46 63.50,277.88 63.75,278.14 64.00,278.29 64.25,278.39 64.50,278.44 64.75,278.47 65.00,278.48 65.25,278.49 65.50,278.50 65.75,278.50 66.00,278.50 66.25,278.50 66.50,278.50 66.75,278.50 67.00,278.50 67.25,278.50 67.50,278.50 67.75,278.50 68.00,278.50 68.25,278.50 68.50,278.50 68.75,278.49 69.00,278.49 69.25,278.48 69.50,278.46 69.75,278.42 70.00,278.37 70.25,278.28 70.50,278.14 70.75,277.93 71.00,277.63 71.25,277.19 71.50,276.61 71.75,275.83 72.00,274.86 72.25,273.67 72.50,272.28 72.75,270.73 73.00,269.07 73.25,267.40 73.50,265.81 73.75,264.42 74.00,263.33 74.25,262.64 74.50,262.40 74.75,262.64 75.00,263.33 75.25,264.41 75.50,265.80 75.75,267.39 76.00,269.05 76.25,270.69 76.50,272.21 76.75,273.54 77.00,274.62 77.25,275.41 77.50,275.90 77.75,276.03 78.00,275.76 78.25,275.05 78.50,273.81 78.75,271.97 79.00,269.43 79.25,266.13 79.50,262.06 79.75,257.24 80.00,251.79 80.25,245.91 80.50,239.89 80.75,234.11 81.00,228.95 81.25,224.80 81.50,222.02 81.75,220.83 82.00,221.35 82.25,223.51 82.50,227.15 82.75,231.95 83.00,237.53 83.25,243.50 83.50,249.48 83.75,255.14 84.00,260.25 84.25,264.66 84.50,268.31 84.75,271.22 85.00,273.45 85.25,275.10 85.50,276.28 85.75,277.09 86.00,277.63 86.25,277.98 86.50,278.20 86.75,278.33 87.00,278.41 87.25,278.45 87.50,278.47 87.75,278.49 88.00,278.49 88.25,278.50 88.50,278.50 88.75,278.50 89.00,278.50 89.25,278.50 89.50,278.50 89.75,278.50 90.00,278.50 90.25,278.50 90.50,278.50 90.75,278.50 91.00,278.50 91.25,278.50 91.50,278.50 91.75,278.50 92.00,278.50 92.25,278.50 92.50,278.50 92.75,278.50 93.00,278.50 93.25,278.50 93.50,278.50 93.75,278.50 94.00,278.50 94.25,278.50 94.50,278.50 94.75,278.50 95.00,278.50 95.25,278.50 95.50,278.50 95.75,278.50 96.00,278.50 96.25,278.50 96.50,278.50 96.75,278.50 97.00,278.50 97.25,278.50 97.50,278.50 97.75,278.50 98.00,278.50 98.25,278.50 98.50,278.50 98.75,278.50 99.00,278.50 99.25,278.50 99.50,278.50 99.75,278.50 100.00,278.50 100.25,278.50 100.50,278.50 100.75,278.50 101.00,278.50 101.25,278.50 101.50,278.50 101.75,278.50 102.00,278.50 102.25,278.50 102.50,278.50 102.75,278.50 103.00,278.50 103.25,278.50 103.50,278.50 103.75,278.50 104.00,278.50 104.25,278.50 104.50,278.50 104.75,278.50 105.00,278.50 105.25,278.50 105.50,278.50 105.75,278.50 106.00,278.50 106.25,278.50 106.50,278.50 106.75,278.50 107.00,278.50 107.25,278.50 107.50,278.50 107.75,278.50 108.00,278.50 108.25,278.50 108.50,278.50 108.75,278.50 109.00,278.50 109.25,278.50 109.50,278.50 109.75,278.50 110.00,278.50 110.25,278.50 110.50,278.50 110.75,278.50 111.00,278.50 111.25,278.50 111.50,278.50 111.75,278.50 112.00,278.50 112.25,278.50 112.50,278.50 112.75,278.50 113.00,278.50 113.25,278.50 113.50,278.50 113.75,278.50 114.00,278.50 114.25,278.50 114.50,278.50 114.75,278.50 115.00,278.50 115.25,278.50 115.50,278.50 115.75,278.50 116.00,278.50 116.25,278.50 116.50,278.50 116.75,278.50 117.00,278.50 117.25,278.50 117.50,278.50 117.75,278.50 118.00,278.50 118.25,278.50 118.50,278.50 118.75,278.50 119.00,278.50 119.25,278.50 119.50,278.50 119.75,278.50 120.00,278.50" fill="none" stroke="#8a879b" stroke-width="0.8"/>
<line x1="25.0" y1="279.1" x2="120.0" y2="279.1" stroke="#6a6a6a" stroke-width="0.7"/>
<text x="27.4" y="288.8" font-family="'Liberation Sans', sans-serif" font-size="6.6" font-weight="bold" fill="#111">PTFL21</text>
<polyline points="21.00,358.04 21.25,357.98 21.50,357.87 21.75,357.66 22.00,357.29 22.25,356.66 22.50,355.64 22.75,354.08 23.00,351.78 23.25,348.56 23.50,344.27 23.75,338.82 24.00,332.28 24.25,324.88 24.50,317.04 24.75,309.33 25.00,302.45 25.25,297.08 25.50,293.83 25.75,293.05 26.00,294.85 26.25,299.01 26.50,305.06 26.75,312.35 27.00,320.19 27.25,327.92 27.50,335.02 27.75,341.14 28.00,346.12 28.25,349.97 28.50,352.80 28.75,354.78 29.00,356.09 29.25,356.91 29.50,357.39 29.75,357.62 30.00,357.65 30.25,357.50 30.50,357.13 30.75,356.46 31.00,355.37 31.25,353.72 31.50,351.33 31.75,348.04 32.00,343.74 32.25,338.40 32.50,332.14 32.75,325.23 33.00,318.11 33.25,311.36 33.50,305.61 33.75,301.46 34.00,299.39 34.25,299.62 34.50,302.14 34.75,306.65 35.00,312.65 35.25,319.52 35.50,326.64 35.75,333.45 36.00,339.55 36.25,344.68 36.50,348.78 36.75,351.87 37.00,354.11 37.25,355.64 37.50,356.64 37.75,357.27 38.00,357.65 38.25,357.86 38.50,357.98 38.75,358.04 39.00,358.07 39.25,358.09 39.50,358.09 39.75,358.10 40.00,358.10 40.25,358.10 40.50,358.10 40.75,358.10 41.00,358.10 41.25,358.10 41.50,358.10 41.75,358.10 42.00,358.10 42.25,358.10 42.50,358.10 42.75,358.10 43.00,358.10 43.25,358.10 43.50,358.10 43.75,358.10 44.00,358.10 44.25,358.10 44.50,358.10 44.75,358.10 45.00,358.10 45.25,358.10 45.50,358.10 45.75,358.10 46.00,358.10 46.25,358.10 46.50,358.10 46.75,358.10 47.00,358.10 47.25,358.10 47.50,358.10 47.75,358.10 48.00,358.10 48.25,358.10 48.50,358.10 48.75,358.10 49.00,358.10 49.25,358.10 49.50,358.10 49.75,358.10 50.00,358.10 50.25,358.10 50.50,358.10 50.75,358.10 51.00,358.10 51.25,358.10 51.50,358.10 51.75,358.10 52.00,358.10 52.25,358.10 52.50,358.10 52.75,358.10 53.00,358.10 53.25,358.10 53.50,358.10 53.75,358.10 54.00,358.10 54.25,358.10 54.50,358.10 54.75,358.10 55.00,358.10 55.25,358.10 55.50,358.10 55.75,358.10 56.00,358.10 56.25,358.10 56.50,358.10 56.75,358.10 57.00,358.10 57.25,358.10 57.50,358.10 57.75,358.10 58.00,358.10 58.25,358.10 58.50,358.10 58.75,358.10 59.00,358.10 59.25,358.10 59.50,358.10 59.75,358.10 60.00,358.10 60.25,358.09 60.50,358.08 60.75,358.05 61.00,358.00 61.25,357.90 61.50,357.71 61.75,357.37 62.00,356.80 62.25,355.86 62.50,354.41 62.75,352.26 63.00,349.21 63.25,345.10 63.50,339.83 63.75,333.44 64.00,326.12 64.25,318.25 64.50,310.39 64.75,303.22 65.00,297.45 65.25,293.70 65.50,292.40 65.75,293.70 66.00,297.45 66.25,303.22 66.50,310.39 66.75,318.25 67.00,326.12 67.25,333.44 67.50,339.83 67.75,345.10 68.00,349.21 68.25,352.26 68.50,354.41 68.75,355.86 69.00,356.78 69.25,357.34 69.50,357.65 69.75,357.77 70.00,357.76 70.25,357.60 70.50,357.25 70.75,356.65 71.00,355.69 71.25,354.23 71.50,352.11 71.75,349.20 72.00,345.40 72.25,340.67 72.50,335.14 72.75,329.02 73.00,322.73 73.25,316.75 73.50,311.67 73.75,308.00 74.00,306.17 74.25,306.37 74.50,308.60 74.75,312.59 75.00,317.90 75.25,323.98 75.50,330.27 75.75,336.30 76.00,341.69 76.25,346.23 76.50,349.85 76.75,352.59 77.00,354.57 77.25,355.92 77.50,356.81 77.75,357.37 78.00,357.70 78.25,357.89 78.50,357.99 78.75,358.05 79.00,358.08 79.25,358.09 79.50,358.10 79.75,358.10 80.00,358.10 80.25,358.10 80.50,358.10 80.75,358.10 81.00,358.10 81.25,358.10 81.50,358.10 81.75,358.10 82.00,358.10 82.25,358.10 82.50,358.10 82.75,358.10 83.00,358.10 83.25,358.10 83.50,358.10 83.75,358.10 84.00,358.10 84.25,358.10 84.50,358.10 84.75,358.10 85.00,358.10 85.25,358.10 85.50,358.10 85.75,358.10 86.00,358.10 86.25,358.10 86.50,358.10 86.75,358.10 87.00,358.10 87.25,358.10 87.50,358.10 87.75,358.10 88.00,358.10 88.25,358.10 88.50,358.10 88.75,358.10 89.00,358.10 89.25,358.10 89.50,358.10 89.75,358.10 90.00,358.10 90.25,358.10 90.50,358.10 90.75,358.10 91.00,358.10 91.25,358.10 91.50,358.10 91.75,358.10 92.00,358.10 92.25,358.10 92.50,358.10 92.75,358.10 93.00,358.10 93.25,358.10 93.50,358.10 93.75,358.10 94.00,358.10 94.25,358.10 94.50,358.10 94.75,358.10 95.00,358.10 95.25,358.10 95.50,358.10 95.75,358.10 96.00,358.10 96.25,358.10 96.50,358.10 96.75,358.10 97.00,358.10 97.25,358.10 97.50,358.10 97.75,358.10 98.00,358.10 98.25,358.10 98.50,358.10 98.75,358.10 99.00,358.10 99.25,358.10 99.50,358.10 99.75,358.10 100.00,358.10 100.25,358.10 100.50,358.10 100.75,358.10 101.00,358.10 101.25,358.10 101.50,358.10 101.75,358.10 102.00,358.10 102.25,358.10 102.50,358.10 102.75,358.10 103.00,358.10 103.25,358.10 103.50,358.10 103.75,358.10 104.00,358.10 104.25,358.10 104.50,358.09 104.75,358.08 105.00,358.07 105.25,358.03 105.50,357.95 105.75,357.81 106.00,357.56 106.25,357.14 106.50,356.43 106.75,355.33 107.00,353.67 107.25,351.31 107.50,348.09 107.75,343.92 108.00,338.81 108.25,332.88 108.50,326.42 108.75,319.87 109.00,313.77 109.25,308.72 109.50,305.24 109.75,303.74 110.00,304.39 110.25,307.11 110.50,311.59 110.75,317.35 111.00,323.79 111.25,330.34 111.50,336.52 111.75,341.99 112.00,346.54 112.25,350.13 112.50,352.81 112.75,354.72 113.00,355.99 113.25,356.78 113.50,357.19 113.75,357.30 114.00,357.11 114.25,356.60 114.50,355.66 114.75,354.16 115.00,351.93 115.25,348.79 115.50,344.60 115.75,339.29 116.00,332.91 116.25,325.70 116.50,318.05 116.75,310.53 117.00,303.82 117.25,298.58 117.50,295.41 117.75,294.65 118.00,296.40 118.25,300.46 118.50,306.36 118.75,313.48 119.00,321.13 119.25,328.66 119.50,335.58 119.75,341.55 120.00,346.42 120.25,350.17 120.50,352.93 120.75,354.86 121.00,356.15" fill="none" stroke="#badba5" stroke-width="0.8"/>
<polyline points="21.00,358.10 21.25,358.10 21.50,358.10 21.75,358.10 22.00,358.10 22.25,358.10 22.50,358.10 22.75,358.10 23.00,358.10 23.25,358.10 23.50,358.10 23.75,358.10 24.00,358.10 24.25,358.10 24.50,358.10 24.75,358.10 25.00,358.10 25.25,358.10 25.50,358.10 25.75,358.10 26.00,358.10 26.25,358.10 26.50,358.10 26.75,358.10 27.00,358.10 27.25,358.10 27.50,358.10 27.75,358.10 28.00,358.10 28.25,358.10 28.50,358.10 28.75,358.10 29.00,358.10 29.25,358.10 29.50,358.10 29.75,358.10 30.00,358.10 30.25,358.10 30.50,358.10 30.75,358.10 31.00,358.10 31.25,358.10 31.50,358.10 31.75,358.10 32.00,358.10 32.25,358.10 32.50,358.10 32.75,358.10 33.00,358.10 33.25,358.10 33.50,358.10 33.75,358.10 34.00,358.10 34.25,358.10 34.50,358.10 34.75,358.10 35.00,358.10 35.25,358.10 35.50,358.10 35.75,358.10 36.00,358.10 36.25,358.10 36.50,358.10 36.75,358.10 37.00,358.10 37.25,358.10 37.50,358.10 37.75,358.10 38.00,358.10 38.25,358.10 38.50,358.10 38.75,358.10 39.00,358.10 39.25,358.10 39.50,358.10 39.75,358.10 40.00,358.10 40.25,358.10 40.50,358.10 40.75,358.10 41.00,358.10 41.25,358.10 41.50,358.10 41.75,358.10 42.00,358.10 42.25,358.10 42.50,358.10 42.75,358.10 43.00,358.10 43.25,358.10 43.50,358.10 43.75,358.10 44.00,358.10 44.25,358.10 44.50,358.10 44.75,358.10 45.00,358.10 45.25,358.10 45.50,358.10 45.75,358.10 46.00,358.10 46.25,358.10 46.50,358.10 46.75,358.10 47.00,358.10 47.25,358.10 47.50,358.10 47.75,358.10 48.00,358.10 48.25,358.10 48.50,358.10 48.75,358.10 49.00,358.10 49.25,358.10 49.50,358.10 49.75,358.10 50.00,358.10 50.25,358.10 50.50,358.10 50.75,358.10 51.00,358.10 51.25,358.10 51.50,358.10 51.75,358.10 52.00,358.10 52.25,358.10 52.50,358.10 52.75,358.10 53.00,358.10 53.25,358.10 53.50,358.10 53.75,358.10 54.00,358.10 54.25,358.10 54.50,358.10 54.75,358.10 55.00,358.10 55.25,358.10 55.50,358.10 55.75,358.10 56.00,358.10 56.25,358.10 56.50,358.10 56.75,358.10 57.00,358.10 57.25,358.10 57.50,358.10 57.75,358.10 58.00,358.10 58.25,358.10 58.50,358.10 58.75,358.10 59.00,358.10 59.25,358.10 59.50,358.10 59.75,358.10 60.00,358.10 60.25,358.10 60.50,358.10 60.75,358.10 61.00,358.10 61.25,358.10 61.50,358.10 61.75,358.10 62.00,358.10 62.25,358.10 62.50,358.10 62.75,358.10 63.00,358.10 63.25,358.10 63.50,358.10 63.75,358.10 64.00,358.10 64.25,358.10 64.50,358.10 64.75,358.10 65.00,358.10 65.25,358.10 65.50,358.10 65.75,358.10 66.00,358.10 66.25,358.10 66.50,358.10 66.75,358.10 67.00,358.10 67.25,358.10 67.50,358.10 67.75,358.10 68.00,358.10 68.25,358.10 68.50,358.10 68.75,358.10 69.00,358.10 69.25,358.10 69.50,358.10 69.75,358.10 70.00,358.10 70.25,358.10 70.50,358.10 70.75,358.10 71.00,358.10 71.25,358.10 71.50,358.10 71.75,358.10 72.00,358.10 72.25,358.10 72.50,358.10 72.75,358.10 73.00,358.10 73.25,358.10 73.50,358.10 73.75,358.10 74.00,358.10 74.25,358.10 74.50,358.10 74.75,358.10 75.00,358.10 75.25,358.10 75.50,358.10 75.75,358.10 76.00,358.10 76.25,358.10 76.50,358.10 76.75,358.10 77.00,358.10 77.25,358.10 77.50,358.10 77.75,358.10 78.00,358.10 78.25,358.10 78.50,358.10 78.75,358.10 79.00,358.10 79.25,358.10 79.50,358.10 79.75,358.10 80.00,358.10 80.25,358.10 80.50,358.10 80.75,358.10 81.00,358.10 81.25,358.10 81.50,358.10 81.75,358.09 82.00,358.09 82.25,358.08 82.50,358.06 82.75,358.03 83.00,357.98 83.25,357.90 83.50,357.77 83.75,357.56 84.00,357.24 84.25,356.77 84.50,356.09 84.75,355.13 85.00,353.83 85.25,352.10 85.50,349.88 85.75,347.11 86.00,343.76 86.25,339.84 86.50,335.41 86.75,330.58 87.00,325.53 87.25,320.48 87.50,315.70 87.75,311.47 88.00,308.05 88.25,305.67 88.50,304.50 88.75,304.63 89.00,306.04 89.25,308.64 89.50,312.23 89.75,316.58 90.00,321.40 90.25,326.41 90.50,331.33 90.75,335.94 91.00,340.05 91.25,343.51 91.50,346.23 91.75,348.16 92.00,349.28 92.25,349.58 92.50,349.07 92.75,347.76 93.00,345.70 93.25,342.95 93.50,339.58 93.75,335.72 94.00,331.53 94.25,327.22 94.50,323.02 94.75,319.16 95.00,315.91 95.25,313.49 95.50,312.05 95.75,311.71 96.00,312.48 96.25,314.31 96.50,317.06 96.75,320.54 97.00,324.48 97.25,328.65 97.50,332.76 97.75,336.58 98.00,339.89 98.25,342.52 98.50,344.32 98.75,345.20 99.00,345.08 99.25,343.93 99.50,341.75 99.75,338.58 100.00,334.50 100.25,329.65 100.50,324.23 100.75,318.50 101.00,312.76 101.25,307.35 101.50,302.61 101.75,298.87 102.00,296.37 102.25,295.32 102.50,295.78 102.75,297.73 103.00,301.03 103.25,305.45 103.50,310.70 103.75,316.45 104.00,322.39 104.25,328.22 104.50,333.70 104.75,338.65 105.00,342.98 105.25,346.62 105.50,349.60 105.75,351.96 106.00,353.77 106.25,355.12 106.50,356.10 106.75,356.79 107.00,357.26 107.25,357.58 107.50,357.78 107.75,357.91 108.00,357.99 108.25,358.04 108.50,358.07 108.75,358.08 109.00,358.09 109.25,358.09 109.50,358.10 109.75,358.10 110.00,358.10 110.25,358.10 110.50,358.10 110.75,358.10 111.00,358.10 111.25,358.10 111.50,358.10 111.75,358.10 112.00,358.10 112.25,358.10 112.50,358.10 112.75,358.10 113.00,358.10 113.25,358.10 113.50,358.10 113.75,358.10 114.00,358.10 114.25,358.10 114.50,358.10 114.75,358.10 115.00,358.10 115.25,358.10 115.50,358.10 115.75,358.10 116.00,358.10 116.25,358.10 116.50,358.10 116.75,358.10 117.00,358.10 117.25,358.10 117.50,358.10 117.75,358.10 118.00,358.10 118.25,358.10 118.50,358.10 118.75,358.10 119.00,358.10 119.25,358.10 119.50,358.10 119.75,358.10 120.00,358.10 120.25,358.10 120.50,358.10 120.75,358.10 121.00,358.10" fill="none" stroke="#e8a2a5" stroke-width="0.8"/>
<polyline points="21.00,358.10 21.25,358.10 21.50,358.10 21.75,358.10 22.00,358.10 22.25,358.10 22.50,358.10 22.75,358.10 23.00,358.10 23.25,358.10 23.50,358.10 23.75,358.10 24.00,358.10 24.25,358.10 24.50,358.10 24.75,358.10 25.00,358.10 25.25,358.10 25.50,358.10 25.75,358.10 26.00,358.10 26.25,358.10 26.50,358.10 26.75,358.10 27.00,358.10 27.25,358.10 27.50,358.10 27.75,358.10 28.00,358.10 28.25,358.10 28.50,358.10 28.75,358.10 29.00,358.10 29.25,358.10 29.50,358.10 29.75,358.10 30.00,358.10 30.25,358.10 30.50,358.10 30.75,358.10 31.00,358.10 31.25,358.10 31.50,358.10 31.75,358.10 32.00,358.10 32.25,358.10 32.50,358.10 32.75,358.10 33.00,358.10 33.25,358.10 33.50,358.10 33.75,358.10 34.00,358.10 34.25,358.10 34.50,358.10 34.75,358.10 35.00,358.10 35.25,358.10 35.50,358.10 35.75,358.10 36.00,358.10 36.25,358.09 36.50,358.08 36.75,358.06 37.00,358.03 37.25,357.96 37.50,357.85 37.75,357.67 38.00,357.37 38.25,356.91 38.50,356.20 38.75,355.16 39.00,353.68 39.25,351.65 39.50,348.97 39.75,345.55 40.00,341.36 40.25,336.42 40.50,330.84 40.75,324.84 41.00,318.69 41.25,312.78 41.50,307.52 41.75,303.29 42.00,300.45 42.25,299.23 42.50,299.76 42.75,301.97 43.00,305.68 43.25,310.57 43.50,316.27 43.75,322.36 44.00,328.44 44.25,334.18 44.50,339.33 44.75,343.73 45.00,347.27 45.25,349.95 45.50,351.78 45.75,352.79 46.00,353.00 46.25,352.43 46.50,351.08 46.75,348.94 47.00,346.01 47.25,342.30 47.50,337.88 47.75,332.90 48.00,327.56 48.25,322.16 48.50,317.02 48.75,312.52 49.00,309.01 49.25,306.77 49.50,306.00 49.75,306.77 50.00,309.01 50.25,312.52 50.50,317.03 50.75,322.17 51.00,327.59 51.25,332.94 51.50,337.96 51.75,342.45 52.00,346.27 52.25,349.39 52.50,351.82 52.75,353.60 53.00,354.79 53.25,355.45 53.50,355.61 53.75,355.29 54.00,354.44 54.25,353.02 54.50,350.95 54.75,348.16 55.00,344.58 55.25,340.20 55.50,335.07 55.75,329.32 56.00,323.19 56.25,317.00 56.50,311.11 56.75,305.96 57.00,301.94 57.25,299.38 57.50,298.50 57.75,299.38 58.00,301.94 58.25,305.96 58.50,311.11 58.75,317.00 59.00,323.20 59.25,329.33 59.50,335.08 59.75,340.22 60.00,344.62 60.25,348.23 60.50,351.09 60.75,353.27 61.00,354.86 61.25,356.00 61.50,356.77 61.75,357.29 62.00,357.62 62.25,357.82 62.50,357.94 62.75,358.02 63.00,358.06 63.25,358.08 63.50,358.09 63.75,358.09 64.00,358.10 64.25,358.10 64.50,358.10 64.75,358.10 65.00,358.10 65.25,358.10 65.50,358.10 65.75,358.10 66.00,358.10 66.25,358.10 66.50,358.10 66.75,358.10 67.00,358.10 67.25,358.10 67.50,358.10 67.75,358.10 68.00,358.10 68.25,358.10 68.50,358.09 68.75,358.08 69.00,358.07 69.25,358.04 69.50,358.00 69.75,357.93 70.00,357.82 70.25,357.66 70.50,357.41 70.75,357.05 71.00,356.56 71.25,355.91 71.50,355.07 71.75,354.04 72.00,352.81 72.25,351.41 72.50,349.89 72.75,348.31 73.00,346.78 73.25,345.38 73.50,344.24 73.75,343.43 74.00,343.04 74.25,343.08 74.50,343.56 74.75,344.44 75.00,345.64 75.25,347.07 75.50,348.61 75.75,350.17 76.00,351.65 76.25,352.97 76.50,354.08 76.75,354.94 77.00,355.51 77.25,355.77 77.50,355.67 77.75,355.18 78.00,354.21 78.25,352.71 78.50,350.59 78.75,347.77 79.00,344.22 79.25,339.95 79.50,335.03 79.75,329.62 80.00,323.96 80.25,318.38 80.50,313.23 80.75,308.90 81.00,305.73 81.25,303.99 81.50,303.83 81.75,305.26 82.00,308.16 82.25,312.29 82.50,317.30 82.75,322.83 83.00,328.51 83.25,333.99 83.50,339.04 83.75,343.47 84.00,347.20 84.25,350.22 84.50,352.57 84.75,354.33 85.00,355.60 85.25,356.50 85.50,357.10 85.75,357.50 86.00,357.75 86.25,357.90 86.50,357.99 86.75,358.04 87.00,358.07 87.25,358.08 87.50,358.09 87.75,358.10 88.00,358.10 88.25,358.10 88.50,358.10 88.75,358.10 89.00,358.10 89.25,358.10 89.50,358.10 89.75,358.10 90.00,358.10 90.25,358.10 90.50,358.10 90.75,358.10 91.00,358.10 91.25,358.10 91.50,358.10 91.75,358.10 92.00,358.10 92.25,358.10 92.50,358.10 92.75,358.10 93.00,358.10 93.25,358.10 93.50,358.10 93.75,358.10 94.00,358.10 94.25,358.10 94.50,358.10 94.75,358.10 95.00,358.10 95.25,358.10 95.50,358.10 95.75,358.10 96.00,358.10 96.25,358.10 96.50,358.10 96.75,358.10 97.00,358.10 97.25,358.10 97.50,358.10 97.75,358.10 98.00,358.10 98.25,358.10 98.50,358.10 98.75,358.10 99.00,358.10 99.25,358.10 99.50,358.10 99.75,358.10 100.00,358.10 100.25,358.10 100.50,358.10 100.75,358.10 101.00,358.10 101.25,358.10 101.50,358.10 101.75,358.10 102.00,358.10 102.25,358.10 102.50,358.10 102.75,358.10 103.00,358.10 103.25,358.10 103.50,358.10 103.75,358.10 104.00,358.10 104.25,358.10 104.50,358.10 104.75,358.10 105.00,358.10 105.25,358.10 105.50,358.10 105.75,358.10 106.00,358.10 106.25,358.10 106.50,358.10 106.75,358.10 107.00,358.10 107.25,358.10 107.50,358.10 107.75,358.10 108.00,358.10 108.25,358.10 108.50,358.10 108.75,358.10 109.00,358.10 109.25,358.10 109.50,358.10 109.75,358.10 110.00,358.10 110.25,358.10 110.50,358.10 110.75,358.10 111.00,358.10 111.25,358.10 111.50,358.10 111.75,358.10 112.00,358.10 112.25,358.10 112.50,358.10 112.75,358.10 113.00,358.10 113.25,358.10 113.50,358.10 113.75,358.10 114.00,358.10 114.25,358.10 114.50,358.10 114.75,358.10 115.00,358.10 115.25,358.10 115.50,358.10 115.75,358.10 116.00,358.10 116.25,358.10 116.50,358.10 116.75,358.10 117.00,358.10 117.25,358.10 117.50,358.10 117.75,358.10 118.00,358.10 118.25,358.10 118.50,358.10 118.75,358.10 119.00,358.10 119.25,358.10 119.50,358.10 119.75,358.10 120.00,358.10 120.25,358.10 120.50,358.10 120.75,358.10 121.00,358.10" fill="none" stroke="#8a879b" stroke-width="0.8"/>
<line x1="21.0" y1="358.7" x2="121.0" y2="358.7" stroke="#6a6a6a" stroke-width="0.7"/>
<text x="27.4" y="369.6" font-family="'Liberation Sans', sans-serif" font-size="6.6" font-weight="bold" fill="#111">PTFL40</text>
<text x="137.6" y="16.5" font-family="'Liberation Sans', sans-serif" font-size="11.3" font-weight="bold" fill="#111">B</text>
<text x="291.0" y="15.8" font-family="'Liberation Sans', sans-serif" font-size="9" font-weight="bold" font-style="italic" fill="#111">IRF8</text>
<rect x="374.0" y="25.5" width="5" height="4.7" fill="#52297f"/>
<text x="382.8" y="29.299999999999997" font-family="'Liberation Sans', sans-serif" font-size="5.6" fill="#111">FL</text>
<rect x="402.6" y="25.5" width="5" height="4.7" fill="#c9a935"/>
<text x="411.40000000000003" y="29.299999999999997" font-family="'Liberation Sans', sans-serif" font-size="5.6" fill="#111">DLBCL</text>
<rect x="374.0" y="35.3" width="5" height="4.7" fill="#d5522a"/>
<text x="382.8" y="39.1" font-family="'Liberation Sans', sans-serif" font-size="5.6" fill="#111">PTFL</text>
<rect x="402.6" y="35.3" width="5" height="4.7" fill="#2a2679"/>
<text x="411.40000000000003" y="39.1" font-family="'Liberation Sans', sans-serif" font-size="5.6" fill="#111">PTFL current series</text>
<line x1="174.8" y1="31.0" x2="174.8" y2="88" stroke="#111" stroke-width="1.4"/>
<text x="172.6" y="34.4" font-family="'Liberation Sans', sans-serif" font-size="6.6" text-anchor="end" fill="#222">10</text>
<text x="172.6" y="90.6" font-family="'Liberation Sans', sans-serif" font-size="6.6" text-anchor="end" fill="#222">1</text>
<text transform="translate(157.0,58.8) rotate(-90)" font-family="'Liberation Sans', sans-serif" font-size="9" text-anchor="middle" fill="#222">Mutations (n)</text>
<rect x="245.8" y="101.6" width="17.7" height="6.0" fill="#dcdcdc"/>
<rect x="245.8" y="103.9" width="17.7" height="1.2" fill="#efefef"/>
<rect x="284.6" y="101.6" width="7.7" height="6.0" fill="#dcdcdc"/>
<rect x="245.8" y="101.6" width="46.5" height="6.0" fill="none" stroke="#555" stroke-width="0.8"/>
<line x1="263.5" y1="101.6" x2="263.5" y2="107.6" stroke="#555" stroke-width="0.8"/>
<line x1="284.6" y1="101.6" x2="284.6" y2="107.6" stroke="#555" stroke-width="0.8"/>
<rect x="397.6" y="101.7" width="28.5" height="5.8" fill="#fff" stroke="#555" stroke-width="0.8"/>
<rect x="174.9" y="96.00" width="70.90" height="5.83" fill="#b0d795"/><rect x="174.9" y="98.22" width="70.90" height="1.28" fill="#cae6b5"/><rect x="174.9" y="101.83" width="70.90" height="5.83" fill="#b0d795"/><rect x="174.9" y="104.05" width="70.90" height="1.28" fill="#cae6b5"/><rect x="174.9" y="107.67" width="70.90" height="5.83" fill="#b0d795"/><rect x="174.9" y="109.88" width="70.90" height="1.28" fill="#cae6b5"/><line x1="174.9" y1="101.83" x2="245.8" y2="101.83" stroke="#3c5530" stroke-width="0.7"/><line x1="174.9" y1="107.67" x2="245.8" y2="107.67" stroke="#3c5530" stroke-width="0.7"/><rect x="174.9" y="96.0" width="70.90" height="17.50" fill="none" stroke="#3c5530" stroke-width="0.9"/>
<line x1="208.9" y1="101.8" x2="208.9" y2="107.7" stroke="#3c5530" stroke-width="0.7"/>
<rect x="292.3" y="96.00" width="105.10" height="5.80" fill="#b5d3ef"/><rect x="292.3" y="98.20" width="105.10" height="1.28" fill="#cfe3f5"/><rect x="292.3" y="101.80" width="105.10" height="5.80" fill="#b5d3ef"/><rect x="292.3" y="104.00" width="105.10" height="1.28" fill="#cfe3f5"/><rect x="292.3" y="107.60" width="105.10" height="5.80" fill="#b5d3ef"/><rect x="292.3" y="109.80" width="105.10" height="1.28" fill="#cfe3f5"/><line x1="292.3" y1="101.80" x2="397.4" y2="101.80" stroke="#3a4a5e" stroke-width="0.7"/><line x1="292.3" y1="107.60" x2="397.4" y2="107.60" stroke="#3a4a5e" stroke-width="0.7"/><rect x="292.3" y="96.0" width="105.10" height="17.40" fill="none" stroke="#3a4a5e" stroke-width="0.9"/>
<line x1="370.8" y1="101.8" x2="370.8" y2="107.6" stroke="#3a4a5e" stroke-width="0.7"/><line x1="392.5" y1="101.8" x2="392.5" y2="107.6" stroke="#3a4a5e" stroke-width="0.7"/>
<text x="178.7" y="120.6" font-family="'Liberation Sans', sans-serif" font-size="6.75" fill="#222">DNA binding domain</text>
<text x="308.4" y="120.6" font-family="'Liberation Sans', sans-serif" font-size="6.75" fill="#222">IRF association domain</text>
<line x1="174.6" y1="123.7" x2="426.9" y2="123.7" stroke="#111" stroke-width="1.3"/>
<line x1="175.2" y1="123.5" x2="175.2" y2="125.8" stroke="#111" stroke-width="0.9"/>
<text x="175.2" y="135.8" font-family="'Liberation Sans', sans-serif" font-size="6.5" text-anchor="middle" fill="#222">1</text>
<line x1="233.7" y1="123.5" x2="233.7" y2="125.8" stroke="#111" stroke-width="0.9"/>
<text x="233.7" y="135.8" font-family="'Liberation Sans', sans-serif" font-size="6.5" text-anchor="middle" fill="#222">100</text>
<line x1="292.4" y1="123.5" x2="292.4" y2="125.8" stroke="#111" stroke-width="0.9"/>
<text x="292.4" y="135.8" font-family="'Liberation Sans', sans-serif" font-size="6.5" text-anchor="middle" fill="#222">200</text>
<line x1="351.3" y1="123.5" x2="351.3" y2="125.8" stroke="#111" stroke-width="0.9"/>
<text x="351.3" y="135.8" font-family="'Liberation Sans', sans-serif" font-size="6.5" text-anchor="middle" fill="#222">300</text>
<line x1="410.9" y1="123.5" x2="410.9" y2="125.8" stroke="#111" stroke-width="0.9"/>
<text x="410.9" y="135.8" font-family="'Liberation Sans', sans-serif" font-size="6.5" text-anchor="middle" fill="#222">400</text>
<line x1="426.3" y1="123.5" x2="426.3" y2="125.8" stroke="#111" stroke-width="0.9"/>
<text x="426.3" y="135.8" font-family="'Liberation Sans', sans-serif" font-size="6.5" text-anchor="middle" fill="#222">426</text>
<line x1="194.6" y1="89.6" x2="194.6" y2="101.7" stroke="#333" stroke-width="0.55"/>
<line x1="204.8" y1="89.6" x2="206.2" y2="101.7" stroke="#333" stroke-width="0.55"/>
<line x1="210.4" y1="89.6" x2="212.6" y2="101.7" stroke="#333" stroke-width="0.55"/>
<line x1="216.5" y1="89.6" x2="221.5" y2="101.7" stroke="#333" stroke-width="0.55"/>
<line x1="222.2" y1="89.6" x2="227.5" y2="101.7" stroke="#333" stroke-width="0.55"/>
<line x1="228.1" y1="89.6" x2="233.5" y2="101.7" stroke="#333" stroke-width="0.55"/>
<line x1="233.8" y1="89.6" x2="238.5" y2="101.7" stroke="#333" stroke-width="0.55"/>
<line x1="239.7" y1="89.6" x2="241.8" y2="101.7" stroke="#333" stroke-width="0.55"/>
<line x1="245.5" y1="89.6" x2="245.3" y2="101.7" stroke="#333" stroke-width="0.55"/>
<line x1="251.6" y1="89.6" x2="251.6" y2="101.7" stroke="#333" stroke-width="0.55"/>
<line x1="337.0" y1="89.6" x2="337.0" y2="101.7" stroke="#333" stroke-width="0.55"/>
<line x1="348.0" y1="89.6" x2="348.0" y2="101.7" stroke="#333" stroke-width="0.55"/>
<line x1="383.2" y1="89.6" x2="383.2" y2="101.7" stroke="#333" stroke-width="0.55"/>
<line x1="398.0" y1="89.6" x2="398.0" y2="101.7" stroke="#333" stroke-width="0.55"/>
<line x1="404.1" y1="89.6" x2="407.5" y2="101.7" stroke="#333" stroke-width="0.55"/>
<line x1="409.6" y1="89.6" x2="409.8" y2="101.7" stroke="#333" stroke-width="0.55"/>
<line x1="415.4" y1="89.6" x2="411.5" y2="101.7" stroke="#333" stroke-width="0.55"/>
<line x1="421.3" y1="89.6" x2="414.0" y2="101.7" stroke="#333" stroke-width="0.55"/>
<line x1="427.2" y1="89.6" x2="416.5" y2="101.7" stroke="#333" stroke-width="0.55"/>
<line x1="433.1" y1="89.6" x2="419.0" y2="101.7" stroke="#333" stroke-width="0.55"/>
<line x1="439.0" y1="89.6" x2="422.0" y2="101.7" stroke="#333" stroke-width="0.55"/>
<line x1="444.9" y1="89.6" x2="424.0" y2="101.7" stroke="#333" stroke-width="0.55"/>
<line x1="450.8" y1="89.6" x2="425.0" y2="101.7" stroke="#333" stroke-width="0.55"/>
<line x1="456.7" y1="89.6" x2="425.6" y2="101.7" stroke="#333" stroke-width="0.55"/>
<line x1="462.6" y1="89.6" x2="426.0" y2="101.7" stroke="#333" stroke-width="0.55"/>
<rect x="192.60" y="85.60" width="4.0" height="4.0" fill="#c9a935"/>
<text transform="translate(196.60,82.00) rotate(-90)" font-family="'Liberation Sans', sans-serif" font-size="5.5" fill="#222">34</text>
<rect x="202.80" y="85.60" width="4.0" height="4.0" fill="#52297f"/>
<rect x="202.80" y="79.40" width="4.0" height="4.0" fill="#c9a935"/>
<text transform="translate(206.80,75.80) rotate(-90)" font-family="'Liberation Sans', sans-serif" font-size="5.5" fill="#222">55</text>
<rect x="208.40" y="85.60" width="4.0" height="4.0" fill="#d5522a"/>
<rect x="208.40" y="79.40" width="4.0" height="4.0" fill="#d5522a"/>
<rect x="208.40" y="73.20" width="4.0" height="4.0" fill="#d5522a"/>
<rect x="208.40" y="67.00" width="4.0" height="4.0" fill="#d5522a"/>
<rect x="208.40" y="60.80" width="4.0" height="4.0" fill="#2a2679"/>
<rect x="208.40" y="54.60" width="4.0" height="4.0" fill="#2a2679"/>
<rect x="208.40" y="48.40" width="4.0" height="4.0" fill="#2a2679"/>
<rect x="208.40" y="42.20" width="4.0" height="4.0" fill="#2a2679"/>
<rect x="208.40" y="36.00" width="4.0" height="4.0" fill="#2a2679"/>
<rect x="208.40" y="29.80" width="4.0" height="4.0" fill="#2a2679"/>
<text transform="translate(212.40,26.20) rotate(-90)" font-family="'Liberation Sans', sans-serif" font-size="5.5" fill="#222">66</text>
<rect x="214.50" y="85.60" width="4.0" height="4.0" fill="#c9a935"/>
<rect x="214.50" y="79.40" width="4.0" height="4.0" fill="#c9a935"/>
<text transform="translate(218.50,75.80) rotate(-90)" font-family="'Liberation Sans', sans-serif" font-size="5.5" fill="#222">67</text>
<rect x="220.20" y="85.60" width="4.0" height="4.0" fill="#c9a935"/>
<text transform="translate(224.20,82.00) rotate(-90)" font-family="'Liberation Sans', sans-serif" font-size="5.5" fill="#222">95</text>
<rect x="226.10" y="85.60" width="4.0" height="4.0" fill="#52297f"/>
<text transform="translate(230.10,82.00) rotate(-90)" font-family="'Liberation Sans', sans-serif" font-size="5.5" fill="#222">107</text>
<rect x="231.80" y="85.60" width="4.0" height="4.0" fill="#52297f"/>
<text transform="translate(235.80,82.00) rotate(-90)" font-family="'Liberation Sans', sans-serif" font-size="5.5" fill="#222">112</text>
<rect x="237.70" y="85.60" width="4.0" height="4.0" fill="#52297f"/>
<rect x="237.70" y="79.40" width="4.0" height="4.0" fill="#52297f"/>
<text transform="translate(241.70,75.80) rotate(-90)" font-family="'Liberation Sans', sans-serif" font-size="5.5" fill="#222">115</text>
<rect x="243.50" y="85.60" width="4.0" height="4.0" fill="#52297f"/>
<text transform="translate(247.50,82.00) rotate(-90)" font-family="'Liberation Sans', sans-serif" font-size="5.5" fill="#222">118</text>
<rect x="249.60" y="85.60" width="4.0" height="4.0" fill="#c9a935"/>
<text transform="translate(253.60,82.00) rotate(-90)" font-family="'Liberation Sans', sans-serif" font-size="5.5" fill="#222">131</text>
<rect x="335.00" y="85.60" width="4.0" height="4.0" fill="#d5522a"/>
<text transform="translate(339.00,82.00) rotate(-90)" font-family="'Liberation Sans', sans-serif" font-size="5.5" fill="#222">276</text>
<rect x="346.00" y="85.60" width="4.0" height="4.0" fill="#d5522a"/>
<text transform="translate(350.00,82.00) rotate(-90)" font-family="'Liberation Sans', sans-serif" font-size="5.5" fill="#222">294</text>
<rect x="381.20" y="85.60" width="4.0" height="4.0" fill="#52297f"/>
<text transform="translate(385.20,82.00) rotate(-90)" font-family="'Liberation Sans', sans-serif" font-size="5.5" fill="#222">353</text>
<rect x="396.00" y="85.60" width="4.0" height="4.0" fill="#c9a935"/>
<text transform="translate(400.00,82.00) rotate(-90)" font-family="'Liberation Sans', sans-serif" font-size="5.5" fill="#222">376</text>
<rect x="402.10" y="85.60" width="4.0" height="4.0" fill="#52297f"/>
<rect x="402.10" y="79.40" width="4.0" height="4.0" fill="#52297f"/>
<rect x="402.10" y="73.20" width="4.0" height="4.0" fill="#52297f"/>
<rect x="402.10" y="67.00" width="4.0" height="4.0" fill="#52297f"/>
<text transform="translate(406.10,63.40) rotate(-90)" font-family="'Liberation Sans', sans-serif" font-size="5.5" fill="#222">392</text>
<rect x="407.60" y="85.60" width="4.0" height="4.0" fill="#52297f"/>
<text transform="translate(411.60,82.00) rotate(-90)" font-family="'Liberation Sans', sans-serif" font-size="5.5" fill="#222">395</text>
<rect x="413.40" y="85.60" width="4.0" height="4.0" fill="#c9a935"/>
<text transform="translate(417.40,82.00) rotate(-90)" font-family="'Liberation Sans', sans-serif" font-size="5.5" fill="#222">396</text>
<rect x="419.30" y="85.60" width="4.0" height="4.0" fill="#52297f"/>
<text transform="translate(423.30,82.00) rotate(-90)" font-family="'Liberation Sans', sans-serif" font-size="5.5" fill="#222">402</text>
<rect x="425.20" y="85.60" width="4.0" height="4.0" fill="#52297f"/>
<text transform="translate(429.20,82.00) rotate(-90)" font-family="'Liberation Sans', sans-serif" font-size="5.5" fill="#222">405</text>
<rect x="431.10" y="85.60" width="4.0" height="4.0" fill="#52297f"/>
<text transform="translate(435.10,82.00) rotate(-90)" font-family="'Liberation Sans', sans-serif" font-size="5.5" fill="#222">411</text>
<rect x="437.00" y="85.60" width="4.0" height="4.0" fill="#52297f"/>
<text transform="translate(441.00,82.00) rotate(-90)" font-family="'Liberation Sans', sans-serif" font-size="5.5" fill="#222">420</text>
<rect x="442.90" y="85.60" width="4.0" height="4.0" fill="#c9a935"/>
<rect x="442.90" y="79.40" width="4.0" height="4.0" fill="#c9a935"/>
<text transform="translate(446.90,75.80) rotate(-90)" font-family="'Liberation Sans', sans-serif" font-size="5.5" fill="#222">424</text>
<rect x="448.80" y="85.60" width="4.0" height="4.0" fill="#52297f"/>
<text transform="translate(452.80,82.00) rotate(-90)" font-family="'Liberation Sans', sans-serif" font-size="5.5" fill="#222">425</text>
<rect x="454.70" y="85.60" width="4.0" height="4.0" fill="#52297f"/>
<text transform="translate(458.70,82.00) rotate(-90)" font-family="'Liberation Sans', sans-serif" font-size="5.5" fill="#222">426</text>
<rect x="460.60" y="85.60" width="4.0" height="4.0" fill="#52297f"/>
<rect x="460.60" y="79.40" width="4.0" height="4.0" fill="#52297f"/>
<rect x="460.60" y="73.20" width="4.0" height="4.0" fill="#52297f"/>
<text transform="translate(464.60,69.60) rotate(-90)" font-family="'Liberation Sans', sans-serif" font-size="5.5" fill="#222">427</text>
<text x="138.0" y="162.9" font-family="'Liberation Sans', sans-serif" font-size="11.4" font-weight="bold" fill="#111">C</text>
<rect x="178.60" y="166.30" width="5.20" height="40.20" fill="#3a66ae"/>
<rect x="185.00" y="179.70" width="5.20" height="26.80" fill="#3a66ae"/>
<rect x="191.40" y="166.30" width="5.20" height="40.20" fill="#3a66ae"/>
<rect x="197.80" y="166.30" width="5.20" height="40.20" fill="#3a66ae"/>
<rect x="204.20" y="179.70" width="5.20" height="26.80" fill="#3a66ae"/>
<rect x="210.60" y="166.30" width="5.20" height="40.20" fill="#3a66ae"/>
<rect x="217.00" y="179.70" width="5.20" height="26.80" fill="#3a66ae"/>
<rect x="223.40" y="179.70" width="5.20" height="26.80" fill="#3a66ae"/>
<rect x="229.80" y="179.70" width="5.20" height="26.80" fill="#3a66ae"/>
<rect x="236.20" y="179.70" width="5.20" height="26.80" fill="#3a66ae"/>
<rect x="242.60" y="193.10" width="5.20" height="13.40" fill="#3a66ae"/>
<rect x="249.00" y="166.30" width="5.20" height="40.20" fill="#3a66ae"/>
<rect x="255.40" y="193.10" width="5.20" height="13.40" fill="#3a66ae"/>
<rect x="261.80" y="193.10" width="5.20" height="13.40" fill="#3a66ae"/>
<rect x="268.20" y="179.70" width="5.20" height="26.80" fill="#3a66ae"/>
<rect x="274.60" y="179.70" width="5.20" height="26.80" fill="#3a66ae"/>
<rect x="281.00" y="193.10" width="5.20" height="13.40" fill="#3a66ae"/>
<rect x="287.40" y="166.30" width="5.20" height="40.20" fill="#3a66ae"/>
<rect x="293.80" y="193.10" width="5.20" height="13.40" fill="#3a66ae"/>
<rect x="300.20" y="193.10" width="5.20" height="13.40" fill="#3a66ae"/>
<rect x="306.60" y="193.10" width="5.20" height="13.40" fill="#3a66ae"/>
<rect x="313.00" y="179.70" width="5.20" height="26.80" fill="#3a66ae"/>
<rect x="319.40" y="179.70" width="5.20" height="26.80" fill="#3a66ae"/>
<rect x="325.80" y="193.10" width="5.20" height="13.40" fill="#3a66ae"/>
<rect x="332.20" y="179.70" width="5.20" height="26.80" fill="#3a66ae"/>
<rect x="338.60" y="179.70" width="5.20" height="26.80" fill="#3a66ae"/>
<rect x="345.00" y="179.70" width="5.20" height="26.80" fill="#3a66ae"/>
<rect x="351.40" y="193.10" width="5.20" height="13.40" fill="#3a66ae"/>
<rect x="357.80" y="193.10" width="5.20" height="13.40" fill="#3a66ae"/>
<rect x="364.20" y="179.70" width="5.20" height="26.80" fill="#3a66ae"/>
<rect x="370.60" y="179.70" width="5.20" height="26.80" fill="#3a66ae"/>
<rect x="377.00" y="193.10" width="5.20" height="13.40" fill="#3a66ae"/>
<rect x="383.40" y="193.10" width="5.20" height="13.40" fill="#3a66ae"/>
<rect x="389.80" y="193.10" width="5.20" height="13.40" fill="#3a66ae"/>
<rect x="415.40" y="166.30" width="5.20" height="40.20" fill="#3a66ae"/>
<line x1="175.4" y1="206.4" x2="453.8" y2="206.4" stroke="#111" stroke-width="1.6"/>
<line x1="175.5" y1="164.4" x2="175.5" y2="207" stroke="#111" stroke-width="1.2"/>
<line x1="173.2" y1="166.4" x2="175.5" y2="166.4" stroke="#111" stroke-width="1"/>
<line x1="173.2" y1="206.2" x2="175.5" y2="206.2" stroke="#111" stroke-width="1"/>
<text x="169.6" y="168.7" font-family="'Liberation Sans', sans-serif" font-size="6.3" text-anchor="end" fill="#222">3</text>
<text x="169.6" y="208.7" font-family="'Liberation Sans', sans-serif" font-size="6.3" text-anchor="end" fill="#222">0</text>
<text transform="translate(159.6,186.2) rotate(-90)" font-family="'Liberation Sans', sans-serif" font-size="8.7" text-anchor="middle" fill="#222">Mutations (n)</text>
<rect x="178.60" y="210.90" width="5.4" height="5.8" fill="#3a66ae"/>
<rect x="185.00" y="210.90" width="5.4" height="5.8" fill="#3a66ae"/>
<rect x="191.40" y="210.90" width="5.4" height="5.8" fill="#3a66ae"/>
<rect x="197.80" y="210.90" width="5.4" height="5.8" fill="#3a66ae"/>
<rect x="204.20" y="210.90" width="5.4" height="5.8" fill="#3a66ae"/>
<rect x="210.60" y="210.90" width="5.4" height="5.8" fill="#3a66ae"/>
<rect x="217.00" y="210.90" width="5.4" height="5.8" fill="#3a66ae"/>
<rect x="223.40" y="210.90" width="5.4" height="5.8" fill="#3a66ae"/>
<rect x="229.80" y="210.90" width="5.4" height="5.8" fill="#3a66ae"/>
<rect x="236.20" y="210.90" width="5.4" height="5.8" fill="#3a66ae"/>
<rect x="242.60" y="210.90" width="5.4" height="5.8" fill="#3a66ae"/>
<rect x="249.00" y="210.90" width="5.4" height="5.8" fill="#3a66ae"/>
<rect x="255.40" y="210.90" width="5.4" height="5.8" fill="#3a66ae"/>
<rect x="261.80" y="210.90" width="5.4" height="5.8" fill="#3a66ae"/>
<rect x="268.20" y="210.90" width="5.4" height="5.8" fill="#3a66ae"/>
<rect x="274.60" y="210.90" width="5.4" height="5.8" fill="#3a66ae"/>
<rect x="281.00" y="210.90" width="5.4" height="5.8" fill="#3a66ae"/>
<rect x="287.40" y="210.90" width="5.4" height="5.8" fill="#3a66ae"/>
<rect x="293.80" y="210.90" width="5.4" height="5.8" fill="#3a66ae"/>
<rect x="300.20" y="210.90" width="5.4" height="5.8" fill="#3a66ae"/>
<rect x="306.60" y="210.90" width="5.4" height="5.8" fill="#3a66ae"/>
<rect x="313.00" y="210.90" width="5.4" height="5.8" fill="#c2c2c2"/>
<rect x="319.40" y="210.90" width="5.4" height="5.8" fill="#c2c2c2"/>
<rect x="325.80" y="210.90" width="5.4" height="5.8" fill="#c2c2c2"/>
<rect x="332.20" y="210.90" width="5.4" height="5.8" fill="#c2c2c2"/>
<rect x="345.00" y="210.90" width="5.4" height="5.8" fill="#c2c2c2"/>
<rect x="351.40" y="210.90" width="5.4" height="5.8" fill="#c2c2c2"/>
<rect x="357.80" y="210.90" width="5.4" height="5.8" fill="#c2c2c2"/>
<rect x="364.20" y="210.90" width="5.4" height="5.8" fill="#c2c2c2"/>
<rect x="370.60" y="210.90" width="5.4" height="5.8" fill="#c2c2c2"/>
<rect x="377.00" y="210.90" width="5.4" height="5.8" fill="#c2c2c2"/>
<rect x="383.40" y="210.90" width="5.4" height="5.8" fill="#c2c2c2"/>
<rect x="389.80" y="210.90" width="5.4" height="5.8" fill="#c2c2c2"/>
<rect x="396.20" y="210.90" width="5.4" height="5.8" fill="#c2c2c2"/>
<rect x="402.60" y="210.90" width="5.4" height="5.8" fill="#c2c2c2"/>
<rect x="415.40" y="210.90" width="5.4" height="5.8" fill="#c2c2c2"/>
<rect x="421.80" y="210.90" width="5.4" height="5.8" fill="#c2c2c2"/>
<rect x="428.20" y="210.90" width="5.4" height="5.8" fill="#c2c2c2"/>
<rect x="434.60" y="210.90" width="5.4" height="5.8" fill="#c2c2c2"/>
<rect x="441.00" y="210.90" width="5.4" height="5.8" fill="#c2c2c2"/>
<rect x="447.40" y="210.90" width="5.4" height="5.8" fill="#c2c2c2"/>
<rect x="178.60" y="218.10" width="5.4" height="5.8" fill="#3a66ae"/>
<rect x="185.00" y="218.10" width="5.4" height="5.8" fill="#3a66ae"/>
<rect x="191.40" y="218.10" width="5.4" height="5.8" fill="#3a66ae"/>
<rect x="197.80" y="218.10" width="5.4" height="5.8" fill="#3a66ae"/>
<rect x="204.20" y="218.10" width="5.4" height="5.8" fill="#3a66ae"/>
<rect x="210.60" y="218.10" width="5.4" height="5.8" fill="#3a66ae"/>
<rect x="217.00" y="218.10" width="5.4" height="5.8" fill="#3a66ae"/>
<rect x="223.40" y="218.10" width="5.4" height="5.8" fill="#3a66ae"/>
<rect x="229.80" y="218.10" width="5.4" height="5.8" fill="#c2c2c2"/>
<rect x="236.20" y="218.10" width="5.4" height="5.8" fill="#c2c2c2"/>
<rect x="242.60" y="218.10" width="5.4" height="5.8" fill="#c2c2c2"/>
<rect x="249.00" y="218.10" width="5.4" height="5.8" fill="#c2c2c2"/>
<rect x="255.40" y="218.10" width="5.4" height="5.8" fill="#c2c2c2"/>
<rect x="261.80" y="218.10" width="5.4" height="5.8" fill="#c2c2c2"/>
<rect x="274.60" y="218.10" width="5.4" height="5.8" fill="#c2c2c2"/>
<rect x="281.00" y="218.10" width="5.4" height="5.8" fill="#c2c2c2"/>
<rect x="287.40" y="218.10" width="5.4" height="5.8" fill="#c2c2c2"/>
<rect x="293.80" y="218.10" width="5.4" height="5.8" fill="#c2c2c2"/>
<rect x="300.20" y="218.10" width="5.4" height="5.8" fill="#c2c2c2"/>
<rect x="306.60" y="218.10" width="5.4" height="5.8" fill="#c2c2c2"/>
<rect x="313.00" y="218.10" width="5.4" height="5.8" fill="#3a66ae"/>
<rect x="319.40" y="218.10" width="5.4" height="5.8" fill="#3a66ae"/>
<rect x="325.80" y="218.10" width="5.4" height="5.8" fill="#3a66ae"/>
<rect x="332.20" y="218.10" width="5.4" height="5.8" fill="#3a66ae"/>
<rect x="338.60" y="218.10" width="5.4" height="5.8" fill="#3a66ae"/>
<rect x="345.00" y="218.10" width="5.4" height="5.8" fill="#3a66ae"/>
<rect x="351.40" y="218.10" width="5.4" height="5.8" fill="#3a66ae"/>
<rect x="357.80" y="218.10" width="5.4" height="5.8" fill="#3a66ae"/>
<rect x="364.20" y="218.10" width="5.4" height="5.8" fill="#3a66ae"/>
<rect x="370.60" y="218.10" width="5.4" height="5.8" fill="#3a66ae"/>
<rect x="377.00" y="218.10" width="5.4" height="5.8" fill="#3a66ae"/>
<rect x="383.40" y="218.10" width="5.4" height="5.8" fill="#3a66ae"/>
<rect x="389.80" y="218.10" width="5.4" height="5.8" fill="#c2c2c2"/>
<rect x="396.20" y="218.10" width="5.4" height="5.8" fill="#c2c2c2"/>
<rect x="402.60" y="218.10" width="5.4" height="5.8" fill="#c2c2c2"/>
<rect x="409.00" y="218.10" width="5.4" height="5.8" fill="#c2c2c2"/>
<rect x="415.40" y="218.10" width="5.4" height="5.8" fill="#c2c2c2"/>
<rect x="421.80" y="218.10" width="5.4" height="5.8" fill="#c2c2c2"/>
<rect x="428.20" y="218.10" width="5.4" height="5.8" fill="#c2c2c2"/>
<rect x="441.00" y="218.10" width="5.4" height="5.8" fill="#c2c2c2"/>
<rect x="447.40" y="218.10" width="5.4" height="5.8" fill="#c2c2c2"/>
<rect x="178.45" y="224.90" width="6.40" height="6.50" fill="#f5ea3c"/>
<rect x="184.85" y="224.90" width="6.40" height="6.50" fill="#f5ea3c"/>
<rect x="191.25" y="224.90" width="6.40" height="6.50" fill="#f5ea3c"/>
<rect x="197.65" y="224.90" width="6.40" height="6.50" fill="#f5ea3c"/>
<rect x="204.05" y="224.90" width="5.70" height="6.50" fill="#f5ea3c"/>
<rect x="210.45" y="224.90" width="5.70" height="6.50" fill="#bb2232"/>
<rect x="217.00" y="225.30" width="5.4" height="5.8" fill="#c2c2c2"/>
<rect x="223.40" y="225.30" width="5.4" height="5.8" fill="#c2c2c2"/>
<rect x="229.65" y="224.90" width="6.40" height="6.50" fill="#f5ea3c"/>
<rect x="236.05" y="224.90" width="6.40" height="6.50" fill="#f5ea3c"/>
<rect x="242.45" y="224.90" width="6.40" height="6.50" fill="#f5ea3c"/>
<rect x="248.85" y="224.90" width="6.40" height="6.50" fill="#f5ea3c"/>
<rect x="255.25" y="224.90" width="6.40" height="6.50" fill="#f5ea3c"/>
<rect x="261.65" y="224.90" width="6.40" height="6.50" fill="#f5ea3c"/>
<rect x="268.05" y="224.90" width="6.40" height="6.50" fill="#f5ea3c"/>
<rect x="274.45" y="224.90" width="6.40" height="6.50" fill="#f5ea3c"/>
<rect x="280.85" y="224.90" width="5.70" height="6.50" fill="#f5ea3c"/>
<rect x="287.40" y="225.30" width="5.4" height="5.8" fill="#c2c2c2"/>
<rect x="293.80" y="225.30" width="5.4" height="5.8" fill="#c2c2c2"/>
<rect x="300.20" y="225.30" width="5.4" height="5.8" fill="#c2c2c2"/>
<rect x="306.60" y="225.30" width="5.4" height="5.8" fill="#c2c2c2"/>
<rect x="312.85" y="224.90" width="5.70" height="6.50" fill="#f5ea3c"/>
<rect x="319.25" y="224.90" width="5.70" height="6.50" fill="#bb2232"/>
<rect x="325.80" y="225.30" width="5.4" height="5.8" fill="#c2c2c2"/>
<rect x="332.20" y="225.30" width="5.4" height="5.8" fill="#c2c2c2"/>
<rect x="338.60" y="225.30" width="5.4" height="5.8" fill="#c2c2c2"/>
<rect x="345.00" y="225.30" width="5.4" height="5.8" fill="#c2c2c2"/>
<rect x="351.40" y="225.30" width="5.4" height="5.8" fill="#c2c2c2"/>
<rect x="357.80" y="225.30" width="5.4" height="5.8" fill="#c2c2c2"/>
<rect x="364.20" y="225.30" width="5.4" height="5.8" fill="#c2c2c2"/>
<rect x="370.60" y="225.30" width="5.4" height="5.8" fill="#c2c2c2"/>
<rect x="377.00" y="225.30" width="5.4" height="5.8" fill="#c2c2c2"/>
<rect x="383.40" y="225.30" width="5.4" height="5.8" fill="#c2c2c2"/>
<rect x="389.65" y="224.90" width="5.70" height="6.50" fill="#f5ea3c"/>
<rect x="396.20" y="225.30" width="5.4" height="5.8" fill="#c2c2c2"/>
<rect x="402.60" y="225.30" width="5.4" height="5.8" fill="#c2c2c2"/>
<rect x="409.00" y="225.30" width="5.4" height="5.8" fill="#c2c2c2"/>
<rect x="415.40" y="225.30" width="5.4" height="5.8" fill="#c2c2c2"/>
<rect x="421.80" y="225.30" width="5.4" height="5.8" fill="#c2c2c2"/>
<rect x="441.00" y="225.30" width="5.4" height="5.8" fill="#c2c2c2"/>
<rect x="447.40" y="225.30" width="5.4" height="5.8" fill="#c2c2c2"/>
<rect x="178.60" y="232.50" width="5.4" height="5.8" fill="#2a388d"/>
<rect x="185.00" y="232.50" width="5.4" height="5.8" fill="#2a388d"/>
<rect x="191.40" y="232.50" width="5.4" height="5.8" fill="#c2c2c2"/>
<rect x="197.80" y="232.50" width="5.4" height="5.8" fill="#c2c2c2"/>
<rect x="204.20" y="232.50" width="5.4" height="5.8" fill="#c2c2c2"/>
<rect x="210.60" y="232.50" width="5.4" height="5.8" fill="#2a388d"/>
<rect x="217.00" y="232.50" width="5.4" height="5.8" fill="#c2c2c2"/>
<rect x="223.40" y="232.50" width="5.4" height="5.8" fill="#c2c2c2"/>
<rect x="229.80" y="232.50" width="5.4" height="5.8" fill="#2a388d"/>
<rect x="236.20" y="232.50" width="5.4" height="5.8" fill="#2a388d"/>
<rect x="242.60" y="232.50" width="5.4" height="5.8" fill="#2a388d"/>
<rect x="249.00" y="232.50" width="5.4" height="5.8" fill="#c2c2c2"/>
<rect x="255.40" y="232.50" width="5.4" height="5.8" fill="#c2c2c2"/>
<rect x="261.80" y="232.50" width="5.4" height="5.8" fill="#c2c2c2"/>
<rect x="268.20" y="232.50" width="5.4" height="5.8" fill="#c2c2c2"/>
<rect x="274.60" y="232.50" width="5.4" height="5.8" fill="#c2c2c2"/>
<rect x="281.00" y="232.50" width="5.4" height="5.8" fill="#c2c2c2"/>
<rect x="287.40" y="232.50" width="5.4" height="5.8" fill="#2a388d"/>
<rect x="293.80" y="232.50" width="5.4" height="5.8" fill="#c2c2c2"/>
<rect x="300.20" y="232.50" width="5.4" height="5.8" fill="#c2c2c2"/>
<rect x="306.60" y="232.50" width="5.4" height="5.8" fill="#c2c2c2"/>
<rect x="313.00" y="232.50" width="5.4" height="5.8" fill="#c2c2c2"/>
<rect x="319.40" y="232.50" width="5.4" height="5.8" fill="#2a388d"/>
<rect x="325.80" y="232.50" width="5.4" height="5.8" fill="#2a388d"/>
<rect x="332.20" y="232.50" width="5.4" height="5.8" fill="#2a388d"/>
<rect x="338.60" y="232.50" width="5.4" height="5.8" fill="#2a388d"/>
<rect x="345.00" y="232.50" width="5.4" height="5.8" fill="#2a388d"/>
<rect x="351.40" y="232.50" width="5.4" height="5.8" fill="#2a388d"/>
<rect x="357.80" y="232.50" width="5.4" height="5.8" fill="#c2c2c2"/>
<rect x="364.20" y="232.50" width="5.4" height="5.8" fill="#c2c2c2"/>
<rect x="370.60" y="232.50" width="5.4" height="5.8" fill="#c2c2c2"/>
<rect x="377.00" y="232.50" width="5.4" height="5.8" fill="#c2c2c2"/>
<rect x="383.40" y="232.50" width="5.4" height="5.8" fill="#c2c2c2"/>
<rect x="389.80" y="232.50" width="5.4" height="5.8" fill="#c2c2c2"/>
<rect x="396.20" y="232.50" width="5.4" height="5.8" fill="#2a388d"/>
<rect x="402.60" y="232.50" width="5.4" height="5.8" fill="#2a388d"/>
<rect x="409.00" y="232.50" width="5.4" height="5.8" fill="#2a388d"/>
<rect x="415.40" y="232.50" width="5.4" height="5.8" fill="#c2c2c2"/>
<rect x="421.80" y="232.50" width="5.4" height="5.8" fill="#c2c2c2"/>
<rect x="441.00" y="232.50" width="5.4" height="5.8" fill="#c2c2c2"/>
<rect x="447.40" y="232.50" width="5.4" height="5.8" fill="#c2c2c2"/>
<rect x="178.60" y="239.70" width="5.4" height="5.8" fill="#2a388d"/>
<rect x="185.00" y="239.70" width="5.4" height="5.8" fill="#c2c2c2"/>
<rect x="191.40" y="239.70" width="5.4" height="5.8" fill="#2a388d"/>
<rect x="197.80" y="239.70" width="5.4" height="5.8" fill="#c2c2c2"/>
<rect x="204.20" y="239.70" width="5.4" height="5.8" fill="#c2c2c2"/>
<rect x="210.60" y="239.70" width="5.4" height="5.8" fill="#2a388d"/>
<rect x="217.00" y="239.70" width="5.4" height="5.8" fill="#2a388d"/>
<rect x="223.40" y="239.70" width="5.4" height="5.8" fill="#c2c2c2"/>
<rect x="229.80" y="239.70" width="5.4" height="5.8" fill="#c2c2c2"/>
<rect x="236.20" y="239.70" width="5.4" height="5.8" fill="#c2c2c2"/>
<rect x="242.60" y="239.70" width="5.4" height="5.8" fill="#c2c2c2"/>
<rect x="249.00" y="239.70" width="5.4" height="5.8" fill="#2a388d"/>
<rect x="255.40" y="239.70" width="5.4" height="5.8" fill="#2a388d"/>
<rect x="261.80" y="239.70" width="5.4" height="5.8" fill="#2a388d"/>
<rect x="268.20" y="239.70" width="5.4" height="5.8" fill="#c2c2c2"/>
<rect x="274.60" y="239.70" width="5.4" height="5.8" fill="#c2c2c2"/>
<rect x="281.00" y="239.70" width="5.4" height="5.8" fill="#c2c2c2"/>
<rect x="287.40" y="239.70" width="5.4" height="5.8" fill="#c2c2c2"/>
<rect x="293.80" y="239.70" width="5.4" height="5.8" fill="#2a388d"/>
<rect x="300.20" y="239.70" width="5.4" height="5.8" fill="#c2c2c2"/>
<rect x="306.60" y="239.70" width="5.4" height="5.8" fill="#c2c2c2"/>
<rect x="313.00" y="239.70" width="5.4" height="5.8" fill="#c2c2c2"/>
<rect x="319.40" y="239.70" width="5.4" height="5.8" fill="#2a388d"/>
<rect x="325.80" y="239.70" width="5.4" height="5.8" fill="#2a388d"/>
<rect x="332.20" y="239.70" width="5.4" height="5.8" fill="#c2c2c2"/>
<rect x="338.60" y="239.70" width="5.4" height="5.8" fill="#c2c2c2"/>
<rect x="345.00" y="239.70" width="5.4" height="5.8" fill="#c2c2c2"/>
<rect x="351.40" y="239.70" width="5.4" height="5.8" fill="#c2c2c2"/>
<rect x="357.80" y="239.70" width="5.4" height="5.8" fill="#2a388d"/>
<rect x="364.20" y="239.70" width="5.4" height="5.8" fill="#2a388d"/>
<rect x="370.60" y="239.70" width="5.4" height="5.8" fill="#c2c2c2"/>
<rect x="377.00" y="239.70" width="5.4" height="5.8" fill="#c2c2c2"/>
<rect x="383.40" y="239.70" width="5.4" height="5.8" fill="#c2c2c2"/>
<rect x="389.80" y="239.70" width="5.4" height="5.8" fill="#2a388d"/>
<rect x="396.20" y="239.70" width="5.4" height="5.8" fill="#c2c2c2"/>
<rect x="402.60" y="239.70" width="5.4" height="5.8" fill="#c2c2c2"/>
<rect x="409.00" y="239.70" width="5.4" height="5.8" fill="#c2c2c2"/>
<rect x="415.40" y="239.70" width="5.4" height="5.8" fill="#2a388d"/>
<rect x="421.80" y="239.70" width="5.4" height="5.8" fill="#c2c2c2"/>
<rect x="428.20" y="239.70" width="5.4" height="5.8" fill="#c2c2c2"/>
<rect x="434.60" y="239.70" width="5.4" height="5.8" fill="#c2c2c2"/>
<rect x="441.00" y="239.70" width="5.4" height="5.8" fill="#c2c2c2"/>
<rect x="447.40" y="239.70" width="5.4" height="5.8" fill="#c2c2c2"/>
<rect x="178.60" y="246.90" width="5.4" height="5.8" fill="#c2c2c2"/>
<rect x="185.00" y="246.90" width="5.4" height="5.8" fill="#c2c2c2"/>
<rect x="191.40" y="246.90" width="5.4" height="5.8" fill="#c2c2c2"/>
<rect x="197.80" y="246.90" width="5.4" height="5.8" fill="#c2c2c2"/>
<rect x="204.20" y="246.90" width="5.4" height="5.8" fill="#c2c2c2"/>
<rect x="217.00" y="246.90" width="5.4" height="5.8" fill="#c2c2c2"/>
<rect x="223.40" y="246.90" width="5.4" height="5.8" fill="#c2c2c2"/>
<rect x="229.80" y="246.90" width="5.4" height="5.8" fill="#c2c2c2"/>
<rect x="236.20" y="246.90" width="5.4" height="5.8" fill="#c2c2c2"/>
<rect x="242.60" y="246.90" width="5.4" height="5.8" fill="#c2c2c2"/>
<rect x="249.00" y="246.90" width="5.4" height="5.8" fill="#3a66ae"/>
<rect x="255.40" y="246.90" width="5.4" height="5.8" fill="#c2c2c2"/>
<rect x="261.80" y="246.90" width="5.4" height="5.8" fill="#c2c2c2"/>
<rect x="268.20" y="246.90" width="5.4" height="5.8" fill="#c2c2c2"/>
<rect x="274.60" y="246.90" width="5.4" height="5.8" fill="#c2c2c2"/>
<rect x="281.00" y="246.90" width="5.4" height="5.8" fill="#c2c2c2"/>
<rect x="287.40" y="246.90" width="5.4" height="5.8" fill="#3a66ae"/>
<rect x="293.80" y="246.90" width="5.4" height="5.8" fill="#c2c2c2"/>
<rect x="300.20" y="246.90" width="5.4" height="5.8" fill="#c2c2c2"/>
<rect x="306.60" y="246.90" width="5.4" height="5.8" fill="#c2c2c2"/>
<rect x="313.00" y="246.90" width="5.4" height="5.8" fill="#c2c2c2"/>
<rect x="319.40" y="246.90" width="5.4" height="5.8" fill="#c2c2c2"/>
<rect x="325.80" y="246.90" width="5.4" height="5.8" fill="#c2c2c2"/>
<rect x="332.20" y="246.90" width="5.4" height="5.8" fill="#3a66ae"/>
<rect x="338.60" y="246.90" width="5.4" height="5.8" fill="#3a66ae"/>
<rect x="345.00" y="246.90" width="5.4" height="5.8" fill="#3a66ae"/>
<rect x="351.40" y="246.90" width="5.4" height="5.8" fill="#c2c2c2"/>
<rect x="364.20" y="246.90" width="5.4" height="5.8" fill="#c2c2c2"/>
<rect x="370.60" y="246.90" width="5.4" height="5.8" fill="#c2c2c2"/>
<rect x="383.40" y="246.90" width="5.4" height="5.8" fill="#c2c2c2"/>
<rect x="389.80" y="246.90" width="5.4" height="5.8" fill="#c2c2c2"/>
<rect x="396.20" y="246.90" width="5.4" height="5.8" fill="#c2c2c2"/>
<rect x="402.60" y="246.90" width="5.4" height="5.8" fill="#c2c2c2"/>
<rect x="415.40" y="246.90" width="5.4" height="5.8" fill="#3a66ae"/>
<rect x="421.80" y="246.90" width="5.4" height="5.8" fill="#c2c2c2"/>
<rect x="428.20" y="246.90" width="5.4" height="5.8" fill="#c2c2c2"/>
<rect x="434.60" y="246.90" width="5.4" height="5.8" fill="#c2c2c2"/>
<rect x="447.40" y="246.90" width="5.4" height="5.8" fill="#c2c2c2"/>
<rect x="178.60" y="254.10" width="5.4" height="5.8" fill="#c2c2c2"/>
<rect x="185.00" y="254.10" width="5.4" height="5.8" fill="#c2c2c2"/>
<rect x="191.40" y="254.10" width="5.4" height="5.8" fill="#3a66ae"/>
<rect x="197.80" y="254.10" width="5.4" height="5.8" fill="#c2c2c2"/>
<rect x="210.60" y="254.10" width="5.4" height="5.8" fill="#3a66ae"/>
<rect x="217.00" y="254.10" width="5.4" height="5.8" fill="#c2c2c2"/>
<rect x="223.40" y="254.10" width="5.4" height="5.8" fill="#c2c2c2"/>
<rect x="229.80" y="254.10" width="5.4" height="5.8" fill="#3a66ae"/>
<rect x="236.20" y="254.10" width="5.4" height="5.8" fill="#c2c2c2"/>
<rect x="242.60" y="254.10" width="5.4" height="5.8" fill="#c2c2c2"/>
<rect x="249.00" y="254.10" width="5.4" height="5.8" fill="#c2c2c2"/>
<rect x="255.40" y="254.10" width="5.4" height="5.8" fill="#c2c2c2"/>
<rect x="261.80" y="254.10" width="5.4" height="5.8" fill="#c2c2c2"/>
<rect x="268.20" y="254.10" width="5.4" height="5.8" fill="#c2c2c2"/>
<rect x="274.60" y="254.10" width="5.4" height="5.8" fill="#c2c2c2"/>
<rect x="281.00" y="254.10" width="5.4" height="5.8" fill="#c2c2c2"/>
<rect x="287.40" y="254.10" width="5.4" height="5.8" fill="#3a66ae"/>
<rect x="293.80" y="254.10" width="5.4" height="5.8" fill="#c2c2c2"/>
<rect x="300.20" y="254.10" width="5.4" height="5.8" fill="#c2c2c2"/>
<rect x="306.60" y="254.10" width="5.4" height="5.8" fill="#c2c2c2"/>
<rect x="313.00" y="254.10" width="5.4" height="5.8" fill="#c2c2c2"/>
<rect x="319.40" y="254.10" width="5.4" height="5.8" fill="#c2c2c2"/>
<rect x="325.80" y="254.10" width="5.4" height="5.8" fill="#c2c2c2"/>
<rect x="332.20" y="254.10" width="5.4" height="5.8" fill="#c2c2c2"/>
<rect x="345.00" y="254.10" width="5.4" height="5.8" fill="#c2c2c2"/>
<rect x="351.40" y="254.10" width="5.4" height="5.8" fill="#c2c2c2"/>
<rect x="357.80" y="254.10" width="5.4" height="5.8" fill="#c2c2c2"/>
<rect x="364.20" y="254.10" width="5.4" height="5.8" fill="#3a66ae"/>
<rect x="370.60" y="254.10" width="5.4" height="5.8" fill="#c2c2c2"/>
<rect x="383.40" y="254.10" width="5.4" height="5.8" fill="#c2c2c2"/>
<rect x="389.80" y="254.10" width="5.4" height="5.8" fill="#3a66ae"/>
<rect x="396.20" y="254.10" width="5.4" height="5.8" fill="#c2c2c2"/>
<rect x="402.60" y="254.10" width="5.4" height="5.8" fill="#c2c2c2"/>
<rect x="409.00" y="254.10" width="5.4" height="5.8" fill="#c2c2c2"/>
<rect x="415.40" y="254.10" width="5.4" height="5.8" fill="#c2c2c2"/>
<rect x="421.80" y="254.10" width="5.4" height="5.8" fill="#c2c2c2"/>
<rect x="428.20" y="254.10" width="5.4" height="5.8" fill="#c2c2c2"/>
<rect x="441.00" y="254.10" width="5.4" height="5.8" fill="#c2c2c2"/>
<rect x="447.40" y="254.10" width="5.4" height="5.8" fill="#c2c2c2"/>
<rect x="178.60" y="261.30" width="5.4" height="5.8" fill="#c2c2c2"/>
<rect x="185.00" y="261.30" width="5.4" height="5.8" fill="#c2c2c2"/>
<rect x="191.40" y="261.30" width="5.4" height="5.8" fill="#c2c2c2"/>
<rect x="197.80" y="261.30" width="5.4" height="5.8" fill="#c2c2c2"/>
<rect x="204.20" y="261.30" width="5.4" height="5.8" fill="#c2c2c2"/>
<rect x="217.00" y="261.30" width="5.4" height="5.8" fill="#c2c2c2"/>
<rect x="223.40" y="261.30" width="5.4" height="5.8" fill="#c2c2c2"/>
<rect x="229.80" y="261.30" width="5.4" height="5.8" fill="#c2c2c2"/>
<rect x="236.20" y="261.30" width="5.4" height="5.8" fill="#3a66ae"/>
<rect x="242.60" y="261.30" width="5.4" height="5.8" fill="#c2c2c2"/>
<rect x="249.00" y="261.30" width="5.4" height="5.8" fill="#3a66ae"/>
<rect x="255.40" y="261.30" width="5.4" height="5.8" fill="#c2c2c2"/>
<rect x="261.80" y="261.30" width="5.4" height="5.8" fill="#c2c2c2"/>
<rect x="268.20" y="261.30" width="5.4" height="5.8" fill="#3a66ae"/>
<rect x="274.60" y="261.30" width="5.4" height="5.8" fill="#3a66ae"/>
<rect x="281.00" y="261.30" width="5.4" height="5.8" fill="#c2c2c2"/>
<rect x="287.40" y="261.30" width="5.4" height="5.8" fill="#c2c2c2"/>
<rect x="293.80" y="261.30" width="5.4" height="5.8" fill="#c2c2c2"/>
<rect x="300.20" y="261.30" width="5.4" height="5.8" fill="#c2c2c2"/>
<rect x="306.60" y="261.30" width="5.4" height="5.8" fill="#c2c2c2"/>
<rect x="313.00" y="261.30" width="5.4" height="5.8" fill="#c2c2c2"/>
<rect x="319.40" y="261.30" width="5.4" height="5.8" fill="#c2c2c2"/>
<rect x="325.80" y="261.30" width="5.4" height="5.8" fill="#c2c2c2"/>
<rect x="332.20" y="261.30" width="5.4" height="5.8" fill="#c2c2c2"/>
<rect x="338.60" y="261.30" width="5.4" height="5.8" fill="#c2c2c2"/>
<rect x="345.00" y="261.30" width="5.4" height="5.8" fill="#c2c2c2"/>
<rect x="351.40" y="261.30" width="5.4" height="5.8" fill="#c2c2c2"/>
<rect x="364.20" y="261.30" width="5.4" height="5.8" fill="#c2c2c2"/>
<rect x="370.60" y="261.30" width="5.4" height="5.8" fill="#c2c2c2"/>
<rect x="383.40" y="261.30" width="5.4" height="5.8" fill="#c2c2c2"/>
<rect x="389.80" y="261.30" width="5.4" height="5.8" fill="#c2c2c2"/>
<rect x="396.20" y="261.30" width="5.4" height="5.8" fill="#c2c2c2"/>
<rect x="402.60" y="261.30" width="5.4" height="5.8" fill="#c2c2c2"/>
<rect x="415.40" y="261.30" width="5.4" height="5.8" fill="#c2c2c2"/>
<rect x="421.80" y="261.30" width="5.4" height="5.8" fill="#c2c2c2"/>
<rect x="428.20" y="261.30" width="5.4" height="5.8" fill="#c2c2c2"/>
<rect x="434.60" y="261.30" width="5.4" height="5.8" fill="#c2c2c2"/>
<rect x="447.40" y="261.30" width="5.4" height="5.8" fill="#c2c2c2"/>
<rect x="178.60" y="268.50" width="5.4" height="5.8" fill="#c2c2c2"/>
<rect x="185.00" y="268.50" width="5.4" height="5.8" fill="#c2c2c2"/>
<rect x="191.40" y="268.50" width="5.4" height="5.8" fill="#c2c2c2"/>
<rect x="197.80" y="268.50" width="5.4" height="5.8" fill="#c2c2c2"/>
<rect x="204.20" y="268.50" width="5.4" height="5.8" fill="#c2c2c2"/>
<rect x="217.00" y="268.50" width="5.4" height="5.8" fill="#c2c2c2"/>
<rect x="223.40" y="268.50" width="5.4" height="5.8" fill="#c2c2c2"/>
<rect x="229.80" y="268.50" width="5.4" height="5.8" fill="#c2c2c2"/>
<rect x="236.20" y="268.50" width="5.4" height="5.8" fill="#c2c2c2"/>
<rect x="242.60" y="268.50" width="5.4" height="5.8" fill="#c2c2c2"/>
<rect x="249.00" y="268.50" width="5.4" height="5.8" fill="#c2c2c2"/>
<rect x="255.40" y="268.50" width="5.4" height="5.8" fill="#c2c2c2"/>
<rect x="261.80" y="268.50" width="5.4" height="5.8" fill="#c2c2c2"/>
<rect x="268.20" y="268.50" width="5.4" height="5.8" fill="#c2c2c2"/>
<rect x="274.60" y="268.50" width="5.4" height="5.8" fill="#c2c2c2"/>
<rect x="281.00" y="268.50" width="5.4" height="5.8" fill="#c2c2c2"/>
<rect x="287.40" y="268.50" width="5.4" height="5.8" fill="#c2c2c2"/>
<rect x="293.80" y="268.50" width="5.4" height="5.8" fill="#c2c2c2"/>
<rect x="300.20" y="268.50" width="5.4" height="5.8" fill="#c2c2c2"/>
<rect x="306.60" y="268.50" width="5.4" height="5.8" fill="#c2c2c2"/>
<rect x="313.00" y="268.50" width="5.4" height="5.8" fill="#c2c2c2"/>
<rect x="319.40" y="268.50" width="5.4" height="5.8" fill="#3a66ae"/>
<rect x="325.80" y="268.50" width="5.4" height="5.8" fill="#c2c2c2"/>
<rect x="332.20" y="268.50" width="5.4" height="5.8" fill="#c2c2c2"/>
<rect x="338.60" y="268.50" width="5.4" height="5.8" fill="#c2c2c2"/>
<rect x="345.00" y="268.50" width="5.4" height="5.8" fill="#c2c2c2"/>
<rect x="351.40" y="268.50" width="5.4" height="5.8" fill="#c2c2c2"/>
<rect x="364.20" y="268.50" width="5.4" height="5.8" fill="#c2c2c2"/>
<rect x="370.60" y="268.50" width="5.4" height="5.8" fill="#c2c2c2"/>
<rect x="383.40" y="268.50" width="5.4" height="5.8" fill="#c2c2c2"/>
<rect x="389.80" y="268.50" width="5.4" height="5.8" fill="#c2c2c2"/>
<rect x="396.20" y="268.50" width="5.4" height="5.8" fill="#c2c2c2"/>
<rect x="402.60" y="268.50" width="5.4" height="5.8" fill="#c2c2c2"/>
<rect x="415.40" y="268.50" width="5.4" height="5.8" fill="#3a66ae"/>
<rect x="421.80" y="268.50" width="5.4" height="5.8" fill="#c2c2c2"/>
<rect x="428.20" y="268.50" width="5.4" height="5.8" fill="#c2c2c2"/>
<rect x="434.60" y="268.50" width="5.4" height="5.8" fill="#c2c2c2"/>
<rect x="447.40" y="268.50" width="5.4" height="5.8" fill="#c2c2c2"/>
<rect x="178.60" y="275.70" width="5.4" height="5.8" fill="#3a66ae"/>
<rect x="185.00" y="275.70" width="5.4" height="5.8" fill="#c2c2c2"/>
<rect x="191.40" y="275.70" width="5.4" height="5.8" fill="#c2c2c2"/>
<rect x="197.80" y="275.70" width="5.4" height="5.8" fill="#c2c2c2"/>
<rect x="204.20" y="275.70" width="5.4" height="5.8" fill="#c2c2c2"/>
<rect x="217.00" y="275.70" width="5.4" height="5.8" fill="#c2c2c2"/>
<rect x="223.40" y="275.70" width="5.4" height="5.8" fill="#c2c2c2"/>
<rect x="229.80" y="275.70" width="5.4" height="5.8" fill="#c2c2c2"/>
<rect x="236.20" y="275.70" width="5.4" height="5.8" fill="#c2c2c2"/>
<rect x="242.60" y="275.70" width="5.4" height="5.8" fill="#c2c2c2"/>
<rect x="249.00" y="275.70" width="5.4" height="5.8" fill="#c2c2c2"/>
<rect x="255.40" y="275.70" width="5.4" height="5.8" fill="#c2c2c2"/>
<rect x="261.80" y="275.70" width="5.4" height="5.8" fill="#c2c2c2"/>
<rect x="268.20" y="275.70" width="5.4" height="5.8" fill="#c2c2c2"/>
<rect x="274.60" y="275.70" width="5.4" height="5.8" fill="#c2c2c2"/>
<rect x="281.00" y="275.70" width="5.4" height="5.8" fill="#c2c2c2"/>
<rect x="287.40" y="275.70" width="5.4" height="5.8" fill="#c2c2c2"/>
<rect x="293.80" y="275.70" width="5.4" height="5.8" fill="#c2c2c2"/>
<rect x="300.20" y="275.70" width="5.4" height="5.8" fill="#c2c2c2"/>
<rect x="306.60" y="275.70" width="5.4" height="5.8" fill="#c2c2c2"/>
<rect x="313.00" y="275.70" width="5.4" height="5.8" fill="#3a66ae"/>
<rect x="319.40" y="275.70" width="5.4" height="5.8" fill="#c2c2c2"/>
<rect x="325.80" y="275.70" width="5.4" height="5.8" fill="#c2c2c2"/>
<rect x="332.20" y="275.70" width="5.4" height="5.8" fill="#c2c2c2"/>
<rect x="338.60" y="275.70" width="5.4" height="5.8" fill="#c2c2c2"/>
<rect x="345.00" y="275.70" width="5.4" height="5.8" fill="#c2c2c2"/>
<rect x="351.40" y="275.70" width="5.4" height="5.8" fill="#c2c2c2"/>
<rect x="364.20" y="275.70" width="5.4" height="5.8" fill="#c2c2c2"/>
<rect x="370.60" y="275.70" width="5.4" height="5.8" fill="#c2c2c2"/>
<rect x="383.40" y="275.70" width="5.4" height="5.8" fill="#c2c2c2"/>
<rect x="389.80" y="275.70" width="5.4" height="5.8" fill="#c2c2c2"/>
<rect x="396.20" y="275.70" width="5.4" height="5.8" fill="#c2c2c2"/>
<rect x="402.60" y="275.70" width="5.4" height="5.8" fill="#c2c2c2"/>
<rect x="415.40" y="275.70" width="5.4" height="5.8" fill="#c2c2c2"/>
<rect x="421.80" y="275.70" width="5.4" height="5.8" fill="#c2c2c2"/>
<rect x="428.20" y="275.70" width="5.4" height="5.8" fill="#c2c2c2"/>
<rect x="434.60" y="275.70" width="5.4" height="5.8" fill="#c2c2c2"/>
<rect x="447.40" y="275.70" width="5.4" height="5.8" fill="#c2c2c2"/>
<rect x="178.60" y="282.90" width="5.4" height="5.8" fill="#c2c2c2"/>
<rect x="185.00" y="282.90" width="5.4" height="5.8" fill="#c2c2c2"/>
<rect x="191.40" y="282.90" width="5.4" height="5.8" fill="#c2c2c2"/>
<rect x="197.80" y="282.90" width="5.4" height="5.8" fill="#c2c2c2"/>
<rect x="204.20" y="282.90" width="5.4" height="5.8" fill="#c2c2c2"/>
<rect x="217.00" y="282.90" width="5.4" height="5.8" fill="#c2c2c2"/>
<rect x="223.40" y="282.90" width="5.4" height="5.8" fill="#c2c2c2"/>
<rect x="229.80" y="282.90" width="5.4" height="5.8" fill="#c2c2c2"/>
<rect x="236.20" y="282.90" width="5.4" height="5.8" fill="#c2c2c2"/>
<rect x="242.60" y="282.90" width="5.4" height="5.8" fill="#c2c2c2"/>
<rect x="249.00" y="282.90" width="5.4" height="5.8" fill="#c2c2c2"/>
<rect x="255.40" y="282.90" width="5.4" height="5.8" fill="#c2c2c2"/>
<rect x="261.80" y="282.90" width="5.4" height="5.8" fill="#c2c2c2"/>
<rect x="268.20" y="282.90" width="5.4" height="5.8" fill="#c2c2c2"/>
<rect x="274.60" y="282.90" width="5.4" height="5.8" fill="#c2c2c2"/>
<rect x="281.00" y="282.90" width="5.4" height="5.8" fill="#c2c2c2"/>
<rect x="287.40" y="282.90" width="5.4" height="5.8" fill="#c2c2c2"/>
<rect x="293.80" y="282.90" width="5.4" height="5.8" fill="#c2c2c2"/>
<rect x="300.20" y="282.90" width="5.4" height="5.8" fill="#c2c2c2"/>
<rect x="306.60" y="282.90" width="5.4" height="5.8" fill="#c2c2c2"/>
<rect x="313.00" y="282.90" width="5.4" height="5.8" fill="#c2c2c2"/>
<rect x="319.40" y="282.90" width="5.4" height="5.8" fill="#c2c2c2"/>
<rect x="325.80" y="282.90" width="5.4" height="5.8" fill="#c2c2c2"/>
<rect x="332.20" y="282.90" width="5.4" height="5.8" fill="#c2c2c2"/>
<rect x="338.60" y="282.90" width="5.4" height="5.8" fill="#c2c2c2"/>
<rect x="345.00" y="282.90" width="5.4" height="5.8" fill="#c2c2c2"/>
<rect x="351.40" y="282.90" width="5.4" height="5.8" fill="#c2c2c2"/>
<rect x="364.20" y="282.90" width="5.4" height="5.8" fill="#c2c2c2"/>
<rect x="370.60" y="282.90" width="5.4" height="5.8" fill="#c2c2c2"/>
<rect x="383.40" y="282.90" width="5.4" height="5.8" fill="#c2c2c2"/>
<rect x="389.80" y="282.90" width="5.4" height="5.8" fill="#c2c2c2"/>
<rect x="396.20" y="282.90" width="5.4" height="5.8" fill="#c2c2c2"/>
<rect x="402.60" y="282.90" width="5.4" height="5.8" fill="#c2c2c2"/>
<rect x="415.40" y="282.90" width="5.4" height="5.8" fill="#3a66ae"/>
<rect x="421.80" y="282.90" width="5.4" height="5.8" fill="#c2c2c2"/>
<rect x="428.20" y="282.90" width="5.4" height="5.8" fill="#c2c2c2"/>
<rect x="434.60" y="282.90" width="5.4" height="5.8" fill="#c2c2c2"/>
<rect x="447.40" y="282.90" width="5.4" height="5.8" fill="#c2c2c2"/>
<rect x="178.60" y="290.10" width="5.4" height="5.8" fill="#c2c2c2"/>
<rect x="185.00" y="290.10" width="5.4" height="5.8" fill="#c2c2c2"/>
<rect x="191.40" y="290.10" width="5.4" height="5.8" fill="#c2c2c2"/>
<rect x="197.80" y="290.10" width="5.4" height="5.8" fill="#3a66ae"/>
<rect x="204.20" y="290.10" width="5.4" height="5.8" fill="#c2c2c2"/>
<rect x="217.00" y="290.10" width="5.4" height="5.8" fill="#c2c2c2"/>
<rect x="223.40" y="290.10" width="5.4" height="5.8" fill="#c2c2c2"/>
<rect x="229.80" y="290.10" width="5.4" height="5.8" fill="#c2c2c2"/>
<rect x="236.20" y="290.10" width="5.4" height="5.8" fill="#c2c2c2"/>
<rect x="242.60" y="290.10" width="5.4" height="5.8" fill="#c2c2c2"/>
<rect x="249.00" y="290.10" width="5.4" height="5.8" fill="#c2c2c2"/>
<rect x="255.40" y="290.10" width="5.4" height="5.8" fill="#c2c2c2"/>
<rect x="261.80" y="290.10" width="5.4" height="5.8" fill="#c2c2c2"/>
<rect x="268.20" y="290.10" width="5.4" height="5.8" fill="#c2c2c2"/>
<rect x="274.60" y="290.10" width="5.4" height="5.8" fill="#c2c2c2"/>
<rect x="281.00" y="290.10" width="5.4" height="5.8" fill="#c2c2c2"/>
<rect x="287.40" y="290.10" width="5.4" height="5.8" fill="#c2c2c2"/>
<rect x="293.80" y="290.10" width="5.4" height="5.8" fill="#c2c2c2"/>
<rect x="300.20" y="290.10" width="5.4" height="5.8" fill="#c2c2c2"/>
<rect x="306.60" y="290.10" width="5.4" height="5.8" fill="#c2c2c2"/>
<rect x="313.00" y="290.10" width="5.4" height="5.8" fill="#c2c2c2"/>
<rect x="319.40" y="290.10" width="5.4" height="5.8" fill="#c2c2c2"/>
<rect x="325.80" y="290.10" width="5.4" height="5.8" fill="#c2c2c2"/>
<rect x="332.20" y="290.10" width="5.4" height="5.8" fill="#c2c2c2"/>
<rect x="338.60" y="290.10" width="5.4" height="5.8" fill="#c2c2c2"/>
<rect x="345.00" y="290.10" width="5.4" height="5.8" fill="#c2c2c2"/>
<rect x="351.40" y="290.10" width="5.4" height="5.8" fill="#c2c2c2"/>
<rect x="364.20" y="290.10" width="5.4" height="5.8" fill="#c2c2c2"/>
<rect x="370.60" y="290.10" width="5.4" height="5.8" fill="#c2c2c2"/>
<rect x="383.40" y="290.10" width="5.4" height="5.8" fill="#c2c2c2"/>
<rect x="389.80" y="290.10" width="5.4" height="5.8" fill="#c2c2c2"/>
<rect x="396.20" y="290.10" width="5.4" height="5.8" fill="#c2c2c2"/>
<rect x="402.60" y="290.10" width="5.4" height="5.8" fill="#c2c2c2"/>
<rect x="415.40" y="290.10" width="5.4" height="5.8" fill="#c2c2c2"/>
<rect x="421.80" y="290.10" width="5.4" height="5.8" fill="#c2c2c2"/>
<rect x="428.20" y="290.10" width="5.4" height="5.8" fill="#c2c2c2"/>
<rect x="434.60" y="290.10" width="5.4" height="5.8" fill="#c2c2c2"/>
<rect x="447.40" y="290.10" width="5.4" height="5.8" fill="#c2c2c2"/>
<rect x="178.60" y="297.30" width="5.4" height="5.8" fill="#c2c2c2"/>
<rect x="185.00" y="297.30" width="5.4" height="5.8" fill="#c2c2c2"/>
<rect x="191.40" y="297.30" width="5.4" height="5.8" fill="#c2c2c2"/>
<rect x="197.80" y="297.30" width="5.4" height="5.8" fill="#c2c2c2"/>
<rect x="204.20" y="297.30" width="5.4" height="5.8" fill="#c2c2c2"/>
<rect x="217.00" y="297.30" width="5.4" height="5.8" fill="#c2c2c2"/>
<rect x="223.40" y="297.30" width="5.4" height="5.8" fill="#c2c2c2"/>
<rect x="229.80" y="297.30" width="5.4" height="5.8" fill="#c2c2c2"/>
<rect x="236.20" y="297.30" width="5.4" height="5.8" fill="#c2c2c2"/>
<rect x="242.60" y="297.30" width="5.4" height="5.8" fill="#c2c2c2"/>
<rect x="249.00" y="297.30" width="5.4" height="5.8" fill="#c2c2c2"/>
<rect x="255.40" y="297.30" width="5.4" height="5.8" fill="#c2c2c2"/>
<rect x="261.80" y="297.30" width="5.4" height="5.8" fill="#c2c2c2"/>
<rect x="268.20" y="297.30" width="5.4" height="5.8" fill="#c2c2c2"/>
<rect x="274.60" y="297.30" width="5.4" height="5.8" fill="#c2c2c2"/>
<rect x="281.00" y="297.30" width="5.4" height="5.8" fill="#c2c2c2"/>
<rect x="287.40" y="297.30" width="5.4" height="5.8" fill="#c2c2c2"/>
<rect x="293.80" y="297.30" width="5.4" height="5.8" fill="#c2c2c2"/>
<rect x="300.20" y="297.30" width="5.4" height="5.8" fill="#c2c2c2"/>
<rect x="306.60" y="297.30" width="5.4" height="5.8" fill="#c2c2c2"/>
<rect x="313.00" y="297.30" width="5.4" height="5.8" fill="#c2c2c2"/>
<rect x="319.40" y="297.30" width="5.4" height="5.8" fill="#c2c2c2"/>
<rect x="325.80" y="297.30" width="5.4" height="5.8" fill="#c2c2c2"/>
<rect x="332.20" y="297.30" width="5.4" height="5.8" fill="#c2c2c2"/>
<rect x="338.60" y="297.30" width="5.4" height="5.8" fill="#c2c2c2"/>
<rect x="345.00" y="297.30" width="5.4" height="5.8" fill="#c2c2c2"/>
<rect x="351.40" y="297.30" width="5.4" height="5.8" fill="#c2c2c2"/>
<rect x="364.20" y="297.30" width="5.4" height="5.8" fill="#c2c2c2"/>
<rect x="370.60" y="297.30" width="5.4" height="5.8" fill="#3a66ae"/>
<rect x="383.40" y="297.30" width="5.4" height="5.8" fill="#c2c2c2"/>
<rect x="389.80" y="297.30" width="5.4" height="5.8" fill="#c2c2c2"/>
<rect x="396.20" y="297.30" width="5.4" height="5.8" fill="#c2c2c2"/>
<rect x="402.60" y="297.30" width="5.4" height="5.8" fill="#c2c2c2"/>
<rect x="415.40" y="297.30" width="5.4" height="5.8" fill="#c2c2c2"/>
<rect x="421.80" y="297.30" width="5.4" height="5.8" fill="#c2c2c2"/>
<rect x="428.20" y="297.30" width="5.4" height="5.8" fill="#c2c2c2"/>
<rect x="434.60" y="297.30" width="5.4" height="5.8" fill="#c2c2c2"/>
<rect x="447.40" y="297.30" width="5.4" height="5.8" fill="#c2c2c2"/>
<rect x="178.60" y="304.50" width="5.4" height="5.8" fill="#c2c2c2"/>
<rect x="185.00" y="304.50" width="5.4" height="5.8" fill="#c2c2c2"/>
<rect x="191.40" y="304.50" width="5.4" height="5.8" fill="#c2c2c2"/>
<rect x="197.80" y="304.50" width="5.4" height="5.8" fill="#c2c2c2"/>
<rect x="204.20" y="304.50" width="5.4" height="5.8" fill="#c2c2c2"/>
<rect x="217.00" y="304.50" width="5.4" height="5.8" fill="#c2c2c2"/>
<rect x="223.40" y="304.50" width="5.4" height="5.8" fill="#c2c2c2"/>
<rect x="229.80" y="304.50" width="5.4" height="5.8" fill="#c2c2c2"/>
<rect x="236.20" y="304.50" width="5.4" height="5.8" fill="#c2c2c2"/>
<rect x="242.60" y="304.50" width="5.4" height="5.8" fill="#c2c2c2"/>
<rect x="249.00" y="304.50" width="5.4" height="5.8" fill="#c2c2c2"/>
<rect x="255.40" y="304.50" width="5.4" height="5.8" fill="#c2c2c2"/>
<rect x="261.80" y="304.50" width="5.4" height="5.8" fill="#c2c2c2"/>
<rect x="268.20" y="304.50" width="5.4" height="5.8" fill="#c2c2c2"/>
<rect x="274.60" y="304.50" width="5.4" height="5.8" fill="#c2c2c2"/>
<rect x="281.00" y="304.50" width="5.4" height="5.8" fill="#c2c2c2"/>
<rect x="287.40" y="304.50" width="5.4" height="5.8" fill="#c2c2c2"/>
<rect x="293.80" y="304.50" width="5.4" height="5.8" fill="#c2c2c2"/>
<rect x="300.20" y="304.50" width="5.4" height="5.8" fill="#c2c2c2"/>
<rect x="306.60" y="304.50" width="5.4" height="5.8" fill="#c2c2c2"/>
<rect x="313.00" y="304.50" width="5.4" height="5.8" fill="#c2c2c2"/>
<rect x="319.40" y="304.50" width="5.4" height="5.8" fill="#c2c2c2"/>
<rect x="325.80" y="304.50" width="5.4" height="5.8" fill="#c2c2c2"/>
<rect x="332.20" y="304.50" width="5.4" height="5.8" fill="#c2c2c2"/>
<rect x="338.60" y="304.50" width="5.4" height="5.8" fill="#c2c2c2"/>
<rect x="345.00" y="304.50" width="5.4" height="5.8" fill="#c2c2c2"/>
<rect x="351.40" y="304.50" width="5.4" height="5.8" fill="#c2c2c2"/>
<rect x="364.20" y="304.50" width="5.4" height="5.8" fill="#c2c2c2"/>
<rect x="370.60" y="304.50" width="5.4" height="5.8" fill="#c2c2c2"/>
<rect x="383.40" y="304.50" width="5.4" height="5.8" fill="#c2c2c2"/>
<rect x="389.80" y="304.50" width="5.4" height="5.8" fill="#c2c2c2"/>
<rect x="396.20" y="304.50" width="5.4" height="5.8" fill="#c2c2c2"/>
<rect x="402.60" y="304.50" width="5.4" height="5.8" fill="#c2c2c2"/>
<rect x="415.40" y="304.50" width="5.4" height="5.8" fill="#c2c2c2"/>
<rect x="421.80" y="304.50" width="5.4" height="5.8" fill="#c2c2c2"/>
<rect x="428.20" y="304.50" width="5.4" height="5.8" fill="#c2c2c2"/>
<rect x="434.60" y="304.50" width="5.4" height="5.8" fill="#c2c2c2"/>
<rect x="447.40" y="304.50" width="5.4" height="5.8" fill="#c2c2c2"/>
<rect x="178.60" y="311.70" width="5.4" height="5.8" fill="#c2c2c2"/>
<rect x="185.00" y="311.70" width="5.4" height="5.8" fill="#c2c2c2"/>
<rect x="191.40" y="311.70" width="5.4" height="5.8" fill="#c2c2c2"/>
<rect x="197.80" y="311.70" width="5.4" height="5.8" fill="#c2c2c2"/>
<rect x="204.20" y="311.70" width="5.4" height="5.8" fill="#c2c2c2"/>
<rect x="217.00" y="311.70" width="5.4" height="5.8" fill="#c2c2c2"/>
<rect x="223.40" y="311.70" width="5.4" height="5.8" fill="#c2c2c2"/>
<rect x="229.80" y="311.70" width="5.4" height="5.8" fill="#c2c2c2"/>
<rect x="236.20" y="311.70" width="5.4" height="5.8" fill="#c2c2c2"/>
<rect x="242.60" y="311.70" width="5.4" height="5.8" fill="#c2c2c2"/>
<rect x="249.00" y="311.70" width="5.4" height="5.8" fill="#c2c2c2"/>
<rect x="255.40" y="311.70" width="5.4" height="5.8" fill="#c2c2c2"/>
<rect x="261.80" y="311.70" width="5.4" height="5.8" fill="#c2c2c2"/>
<rect x="268.20" y="311.70" width="5.4" height="5.8" fill="#c2c2c2"/>
<rect x="274.60" y="311.70" width="5.4" height="5.8" fill="#c2c2c2"/>
<rect x="281.00" y="311.70" width="5.4" height="5.8" fill="#c2c2c2"/>
<rect x="287.40" y="311.70" width="5.4" height="5.8" fill="#c2c2c2"/>
<rect x="293.80" y="311.70" width="5.4" height="5.8" fill="#c2c2c2"/>
<rect x="300.20" y="311.70" width="5.4" height="5.8" fill="#c2c2c2"/>
<rect x="306.60" y="311.70" width="5.4" height="5.8" fill="#c2c2c2"/>
<rect x="313.00" y="311.70" width="5.4" height="5.8" fill="#c2c2c2"/>
<rect x="319.40" y="311.70" width="5.4" height="5.8" fill="#c2c2c2"/>
<rect x="325.80" y="311.70" width="5.4" height="5.8" fill="#c2c2c2"/>
<rect x="332.20" y="311.70" width="5.4" height="5.8" fill="#c2c2c2"/>
<rect x="338.60" y="311.70" width="5.4" height="5.8" fill="#c2c2c2"/>
<rect x="345.00" y="311.70" width="5.4" height="5.8" fill="#c2c2c2"/>
<rect x="351.40" y="311.70" width="5.4" height="5.8" fill="#c2c2c2"/>
<rect x="364.20" y="311.70" width="5.4" height="5.8" fill="#c2c2c2"/>
<rect x="370.60" y="311.70" width="5.4" height="5.8" fill="#c2c2c2"/>
<rect x="383.40" y="311.70" width="5.4" height="5.8" fill="#c2c2c2"/>
<rect x="389.80" y="311.70" width="5.4" height="5.8" fill="#c2c2c2"/>
<rect x="396.20" y="311.70" width="5.4" height="5.8" fill="#c2c2c2"/>
<rect x="402.60" y="311.70" width="5.4" height="5.8" fill="#c2c2c2"/>
<rect x="415.40" y="311.70" width="5.4" height="5.8" fill="#c2c2c2"/>
<rect x="421.80" y="311.70" width="5.4" height="5.8" fill="#c2c2c2"/>
<rect x="428.20" y="311.70" width="5.4" height="5.8" fill="#c2c2c2"/>
<rect x="434.60" y="311.70" width="5.4" height="5.8" fill="#c2c2c2"/>
<rect x="447.40" y="311.70" width="5.4" height="5.8" fill="#c2c2c2"/>
<rect x="178.60" y="318.90" width="5.4" height="5.8" fill="#c2c2c2"/>
<rect x="185.00" y="318.90" width="5.4" height="5.8" fill="#c2c2c2"/>
<rect x="191.40" y="318.90" width="5.4" height="5.8" fill="#c2c2c2"/>
<rect x="197.80" y="318.90" width="5.4" height="5.8" fill="#c2c2c2"/>
<rect x="204.20" y="318.90" width="5.4" height="5.8" fill="#c2c2c2"/>
<rect x="217.00" y="318.90" width="5.4" height="5.8" fill="#c2c2c2"/>
<rect x="223.40" y="318.90" width="5.4" height="5.8" fill="#c2c2c2"/>
<rect x="229.80" y="318.90" width="5.4" height="5.8" fill="#c2c2c2"/>
<rect x="236.20" y="318.90" width="5.4" height="5.8" fill="#c2c2c2"/>
<rect x="242.60" y="318.90" width="5.4" height="5.8" fill="#c2c2c2"/>
<rect x="249.00" y="318.90" width="5.4" height="5.8" fill="#c2c2c2"/>
<rect x="255.40" y="318.90" width="5.4" height="5.8" fill="#c2c2c2"/>
<rect x="261.80" y="318.90" width="5.4" height="5.8" fill="#c2c2c2"/>
<rect x="268.20" y="318.90" width="5.4" height="5.8" fill="#c2c2c2"/>
<rect x="274.60" y="318.90" width="5.4" height="5.8" fill="#c2c2c2"/>
<rect x="281.00" y="318.90" width="5.4" height="5.8" fill="#c2c2c2"/>
<rect x="287.40" y="318.90" width="5.4" height="5.8" fill="#c2c2c2"/>
<rect x="293.80" y="318.90" width="5.4" height="5.8" fill="#c2c2c2"/>
<rect x="300.20" y="318.90" width="5.4" height="5.8" fill="#c2c2c2"/>
<rect x="306.60" y="318.90" width="5.4" height="5.8" fill="#c2c2c2"/>
<rect x="313.00" y="318.90" width="5.4" height="5.8" fill="#c2c2c2"/>
<rect x="319.40" y="318.90" width="5.4" height="5.8" fill="#c2c2c2"/>
<rect x="325.80" y="318.90" width="5.4" height="5.8" fill="#c2c2c2"/>
<rect x="332.20" y="318.90" width="5.4" height="5.8" fill="#c2c2c2"/>
<rect x="338.60" y="318.90" width="5.4" height="5.8" fill="#c2c2c2"/>
<rect x="345.00" y="318.90" width="5.4" height="5.8" fill="#c2c2c2"/>
<rect x="351.40" y="318.90" width="5.4" height="5.8" fill="#c2c2c2"/>
<rect x="364.20" y="318.90" width="5.4" height="5.8" fill="#c2c2c2"/>
<rect x="370.60" y="318.90" width="5.4" height="5.8" fill="#c2c2c2"/>
<rect x="383.40" y="318.90" width="5.4" height="5.8" fill="#c2c2c2"/>
<rect x="389.80" y="318.90" width="5.4" height="5.8" fill="#c2c2c2"/>
<rect x="396.20" y="318.90" width="5.4" height="5.8" fill="#c2c2c2"/>
<rect x="402.60" y="318.90" width="5.4" height="5.8" fill="#c2c2c2"/>
<rect x="415.40" y="318.90" width="5.4" height="5.8" fill="#c2c2c2"/>
<rect x="421.80" y="318.90" width="5.4" height="5.8" fill="#c2c2c2"/>
<rect x="428.20" y="318.90" width="5.4" height="5.8" fill="#c2c2c2"/>
<rect x="434.60" y="318.90" width="5.4" height="5.8" fill="#c2c2c2"/>
<rect x="447.40" y="318.90" width="5.4" height="5.8" fill="#c2c2c2"/>
<rect x="178.60" y="326.10" width="5.4" height="5.8" fill="#c2c2c2"/>
<rect x="185.00" y="326.10" width="5.4" height="5.8" fill="#c2c2c2"/>
<rect x="191.40" y="326.10" width="5.4" height="5.8" fill="#c2c2c2"/>
<rect x="197.80" y="326.10" width="5.4" height="5.8" fill="#c2c2c2"/>
<rect x="204.20" y="326.10" width="5.4" height="5.8" fill="#c2c2c2"/>
<rect x="217.00" y="326.10" width="5.4" height="5.8" fill="#c2c2c2"/>
<rect x="223.40" y="326.10" width="5.4" height="5.8" fill="#c2c2c2"/>
<rect x="229.80" y="326.10" width="5.4" height="5.8" fill="#c2c2c2"/>
<rect x="236.20" y="326.10" width="5.4" height="5.8" fill="#c2c2c2"/>
<rect x="242.60" y="326.10" width="5.4" height="5.8" fill="#c2c2c2"/>
<rect x="249.00" y="326.10" width="5.4" height="5.8" fill="#c2c2c2"/>
<rect x="255.40" y="326.10" width="5.4" height="5.8" fill="#c2c2c2"/>
<rect x="261.80" y="326.10" width="5.4" height="5.8" fill="#c2c2c2"/>
<rect x="268.20" y="326.10" width="5.4" height="5.8" fill="#c2c2c2"/>
<rect x="274.60" y="326.10" width="5.4" height="5.8" fill="#c2c2c2"/>
<rect x="281.00" y="326.10" width="5.4" height="5.8" fill="#c2c2c2"/>
<rect x="287.40" y="326.10" width="5.4" height="5.8" fill="#c2c2c2"/>
<rect x="293.80" y="326.10" width="5.4" height="5.8" fill="#c2c2c2"/>
<rect x="300.20" y="326.10" width="5.4" height="5.8" fill="#c2c2c2"/>
<rect x="306.60" y="326.10" width="5.4" height="5.8" fill="#c2c2c2"/>
<rect x="313.00" y="326.10" width="5.4" height="5.8" fill="#c2c2c2"/>
<rect x="319.40" y="326.10" width="5.4" height="5.8" fill="#c2c2c2"/>
<rect x="325.80" y="326.10" width="5.4" height="5.8" fill="#c2c2c2"/>
<rect x="332.20" y="326.10" width="5.4" height="5.8" fill="#c2c2c2"/>
<rect x="338.60" y="326.10" width="5.4" height="5.8" fill="#c2c2c2"/>
<rect x="345.00" y="326.10" width="5.4" height="5.8" fill="#c2c2c2"/>
<rect x="351.40" y="326.10" width="5.4" height="5.8" fill="#c2c2c2"/>
<rect x="364.20" y="326.10" width="5.4" height="5.8" fill="#c2c2c2"/>
<rect x="370.60" y="326.10" width="5.4" height="5.8" fill="#c2c2c2"/>
<rect x="383.40" y="326.10" width="5.4" height="5.8" fill="#c2c2c2"/>
<rect x="389.80" y="326.10" width="5.4" height="5.8" fill="#c2c2c2"/>
<rect x="396.20" y="326.10" width="5.4" height="5.8" fill="#c2c2c2"/>
<rect x="402.60" y="326.10" width="5.4" height="5.8" fill="#c2c2c2"/>
<rect x="415.40" y="326.10" width="5.4" height="5.8" fill="#c2c2c2"/>
<rect x="421.80" y="326.10" width="5.4" height="5.8" fill="#c2c2c2"/>
<rect x="428.20" y="326.10" width="5.4" height="5.8" fill="#c2c2c2"/>
<rect x="434.60" y="326.10" width="5.4" height="5.8" fill="#c2c2c2"/>
<rect x="447.40" y="326.10" width="5.4" height="5.8" fill="#c2c2c2"/>
<text x="174.0" y="214.90" font-family="'Liberation Sans', sans-serif" font-size="4.1" font-style="italic" text-anchor="end" fill="#111">TNFRSF14</text>
<text x="174.0" y="222.10" font-family="'Liberation Sans', sans-serif" font-size="4.1" font-style="italic" text-anchor="end" fill="#111">MAP2K1</text>
<text x="174.0" y="229.30" font-family="'Liberation Sans', sans-serif" font-size="4.1" text-anchor="end" fill="#111">Alt. 1p36</text>
<text x="174.0" y="236.50" font-family="'Liberation Sans', sans-serif" font-size="4.1" text-anchor="end" fill="#111">CNA</text>
<text x="174.0" y="243.70" font-family="'Liberation Sans', sans-serif" font-size="4.1" text-anchor="end" fill="#111">≥ 18years</text>
<text x="174.0" y="250.90" font-family="'Liberation Sans', sans-serif" font-size="4.1" font-style="italic" text-anchor="end" fill="#111">KMT2D</text>
<text x="174.0" y="258.10" font-family="'Liberation Sans', sans-serif" font-size="4.1" font-style="italic" text-anchor="end" fill="#111">IRF8</text>
<text x="174.0" y="265.30" font-family="'Liberation Sans', sans-serif" font-size="4.1" font-style="italic" text-anchor="end" fill="#111">GNA13</text>
<text x="174.0" y="272.50" font-family="'Liberation Sans', sans-serif" font-size="4.1" font-style="italic" text-anchor="end" fill="#111">EP300</text>
<text x="174.0" y="279.70" font-family="'Liberation Sans', sans-serif" font-size="4.1" font-style="italic" text-anchor="end" fill="#111">FOXO1</text>
<text x="174.0" y="286.90" font-family="'Liberation Sans', sans-serif" font-size="4.1" font-style="italic" text-anchor="end" fill="#111">CREBBP</text>
<text x="174.0" y="294.10" font-family="'Liberation Sans', sans-serif" font-size="4.1" font-style="italic" text-anchor="end" fill="#111">HIST1H1B</text>
<text x="174.0" y="301.30" font-family="'Liberation Sans', sans-serif" font-size="4.1" font-style="italic" text-anchor="end" fill="#111">HIST1H1C</text>
<text x="174.0" y="308.50" font-family="'Liberation Sans', sans-serif" font-size="4.1" font-style="italic" text-anchor="end" fill="#111">EZH2</text>
<text x="174.0" y="315.70" font-family="'Liberation Sans', sans-serif" font-size="4.1" font-style="italic" text-anchor="end" fill="#111">MEF2B</text>
<text x="174.0" y="322.90" font-family="'Liberation Sans', sans-serif" font-size="4.1" font-style="italic" text-anchor="end" fill="#111">HIST1H1D</text>
<text x="174.0" y="330.10" font-family="'Liberation Sans', sans-serif" font-size="4.1" font-style="italic" text-anchor="end" fill="#111">HIST1H1E</text>
<rect x="178.60" y="336.30" width="5.20" height="6.53" fill="#2a388d"/>
<rect x="185.00" y="336.30" width="5.20" height="6.53" fill="#2a388d"/>
<rect x="210.60" y="336.30" width="5.20" height="39.18" fill="#2a388d"/>
<rect x="229.80" y="336.30" width="5.20" height="13.06" fill="#2a388d"/>
<rect x="236.20" y="336.30" width="5.20" height="13.06" fill="#2a388d"/>
<rect x="242.60" y="336.30" width="5.20" height="13.06" fill="#2a388d"/>
<rect x="287.40" y="336.30" width="5.20" height="13.06" fill="#2a388d"/>
<rect x="319.40" y="336.30" width="5.20" height="6.53" fill="#2a388d"/>
<rect x="325.80" y="336.30" width="5.20" height="6.53" fill="#2a388d"/>
<rect x="332.20" y="336.30" width="5.20" height="26.12" fill="#2a388d"/>
<rect x="338.60" y="336.30" width="5.20" height="6.53" fill="#2a388d"/>
<rect x="345.00" y="336.30" width="5.20" height="6.53" fill="#2a388d"/>
<rect x="351.40" y="336.30" width="5.20" height="19.59" fill="#2a388d"/>
<rect x="396.20" y="336.30" width="5.20" height="6.53" fill="#2a388d"/>
<rect x="402.60" y="336.30" width="5.20" height="6.53" fill="#2a388d"/>
<rect x="409.00" y="336.30" width="5.20" height="13.06" fill="#2a388d"/>
<line x1="176.8" y1="335.6" x2="453.8" y2="335.6" stroke="#111" stroke-width="1.6"/>
<line x1="174.4" y1="335" x2="174.4" y2="377.6" stroke="#111" stroke-width="1.2"/>
<line x1="172.4" y1="336" x2="174.4" y2="336" stroke="#111" stroke-width="1"/>
<line x1="172.4" y1="376.6" x2="174.4" y2="376.6" stroke="#111" stroke-width="1"/>
<text x="170.2" y="338.3" font-family="'Liberation Sans', sans-serif" font-size="6.3" text-anchor="end" fill="#222">0</text>
<text x="170.2" y="378.6" font-family="'Liberation Sans', sans-serif" font-size="6.3" text-anchor="end" fill="#222">6</text>
<text transform="translate(159.8,356.2) rotate(-90)" font-family="'Liberation Sans', sans-serif" font-size="8.6" text-anchor="middle" fill="#222">CNA (n)</text>
<rect x="460.0" y="211.70" width="49.56" height="4.4" fill="#3a66ae"/>
<rect x="460.0" y="218.90" width="47.20" height="4.4" fill="#3a66ae"/>
<rect x="460.0" y="226.10" width="4.72" height="4.4" fill="#bb2232"/>
<rect x="464.72" y="226.10" width="37.76" height="4.4" fill="#f5ea3c"/>
<rect x="460.0" y="233.30" width="37.76" height="4.4" fill="#2a388d"/>
<rect x="460.0" y="240.50" width="33.04" height="4.4" fill="#2a388d"/>
<rect x="460.0" y="247.70" width="14.16" height="4.4" fill="#3a66ae"/>
<rect x="460.0" y="254.90" width="14.16" height="4.4" fill="#3a66ae"/>
<rect x="460.0" y="262.10" width="9.44" height="4.4" fill="#3a66ae"/>
<rect x="460.0" y="269.30" width="4.72" height="4.4" fill="#3a66ae"/>
<rect x="460.0" y="276.50" width="4.72" height="4.4" fill="#3a66ae"/>
<rect x="460.0" y="283.70" width="2.36" height="4.4" fill="#3a66ae"/>
<rect x="460.0" y="290.90" width="2.36" height="4.4" fill="#3a66ae"/>
<rect x="460.0" y="298.10" width="2.36" height="4.4" fill="#3a66ae"/>
<line x1="459.3" y1="208.6" x2="459.3" y2="336.8" stroke="#111" stroke-width="1.1"/>
<line x1="459.3" y1="336.3" x2="512.6" y2="336.3" stroke="#111" stroke-width="1.1"/>
<line x1="459.5" y1="336.3" x2="459.5" y2="338.4" stroke="#111" stroke-width="0.9"/>
<text x="459.5" y="346.8" font-family="'Liberation Sans', sans-serif" font-size="6.5" text-anchor="middle" fill="#111">0</text>
<line x1="483.4" y1="336.3" x2="483.4" y2="338.4" stroke="#111" stroke-width="0.9"/>
<text x="483.4" y="346.8" font-family="'Liberation Sans', sans-serif" font-size="6.5" text-anchor="middle" fill="#111">10</text>
<line x1="510.9" y1="336.3" x2="510.9" y2="338.4" stroke="#111" stroke-width="0.9"/>
<text x="510.9" y="346.8" font-family="'Liberation Sans', sans-serif" font-size="6.5" text-anchor="middle" fill="#111">21</text>
<text x="461.6" y="358.6" font-family="'Liberation Sans', sans-serif" font-size="8.6" fill="#222" textLength="48.4" lengthAdjust="spacingAndGlyphs">Frequency (n)</text>
<rect x="463.3" y="366.7" width="6.3" height="5.2" fill="#3a66ae"/>
<text x="472.5" y="371.1" font-family="'Liberation Sans', sans-serif" font-size="5.7" fill="#111">Mutated Gene</text>
<rect x="463.3" y="374.8" width="6.3" height="5.2" fill="#f5ea3c"/>
<text x="472.5" y="379.2" font-family="'Liberation Sans', sans-serif" font-size="5.7" fill="#111">CNN-LOH</text>
<rect x="463.3" y="383.2" width="6.3" height="5.2" fill="#bb2232"/>
<text x="472.5" y="387.6" font-family="'Liberation Sans', sans-serif" font-size="5.7" fill="#111">Loss</text>
<rect x="0" y="0" width="520" height="1.5" fill="#000"/><rect x="0" y="0" width="1.4" height="396" fill="#000"/><rect x="518.5" y="0" width="1.5" height="396" fill="#000"/><rect x="0" y="394.4" width="520" height="1.6" fill="#000"/></svg>
</body></html>
